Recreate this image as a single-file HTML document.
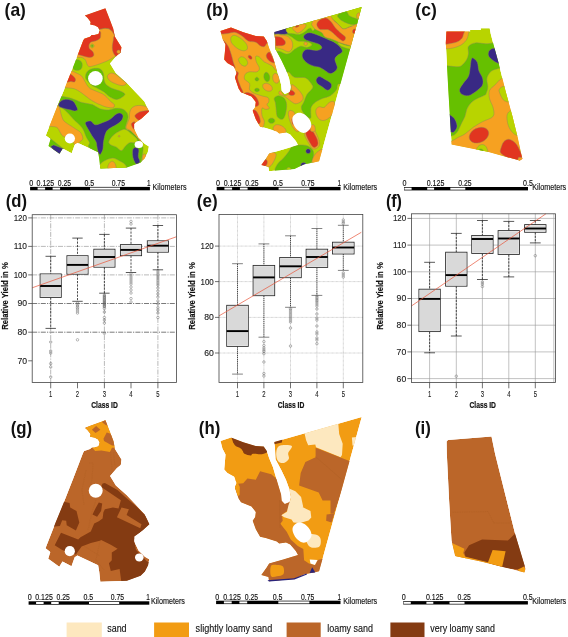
<!DOCTYPE html>
<html><head><meta charset="utf-8"><title>Figure</title>
<style>
html,body{margin:0;padding:0;background:#fff;}
body{width:568px;height:637px;overflow:hidden;font-family:"Liberation Sans",sans-serif;}
svg{display:block;will-change:transform}
text{font-family:"Liberation Sans",sans-serif;}
</style></head><body>
<svg width="568" height="637" viewBox="0 0 568 637">
<rect width="568" height="637" fill="#fff"/>
<clipPath id="ca"><path d="M84.8,15.6 L105.4,8.2 L110.1,20.3 L113.3,28.8 L114.9,36.7 L121.4,47.3 L120.7,52.5 L116.9,55.5 L110.0,63.5 L115.8,73.0 L126.4,82.5 L134.9,91.4 L144.4,101.5 L149.1,111.5 L141.5,118.5 L134.1,123.7 L134.1,129.0 L138.3,137.5 L144.6,143.8 L148.9,146.4 L147.8,152.3 L144.6,158.6 L140.4,162.8 L126.7,167.6 L100.3,168.6 L99.2,158.6 L98.1,152.3 L77.5,142.7 L74.9,144.3 L71.7,153.3 L62.7,148.6 L59.5,153.8 L48.5,145.9 L50.6,139.0 L45.8,135.4 L55.8,110.0 L64.0,90.0 L74.2,64.2 L83.2,40.4 L84.3,38.8 L90.1,36.7 L91.7,35.1 L94.3,35.1 L98.5,34.0 L99.6,30.4 L98.0,27.2 L94.8,25.6 L90.1,24.5 L90.6,21.9 L87.4,17.7 Z"/></clipPath>
<g clip-path="url(#ca)">
<path d="M84.8,15.6 L105.4,8.2 L110.1,20.3 L113.3,28.8 L114.9,36.7 L121.4,47.3 L120.7,52.5 L116.9,55.5 L110.0,63.5 L115.8,73.0 L126.4,82.5 L134.9,91.4 L144.4,101.5 L149.1,111.5 L141.5,118.5 L134.1,123.7 L134.1,129.0 L138.3,137.5 L144.6,143.8 L148.9,146.4 L147.8,152.3 L144.6,158.6 L140.4,162.8 L126.7,167.6 L100.3,168.6 L99.2,158.6 L98.1,152.3 L77.5,142.7 L74.9,144.3 L71.7,153.3 L62.7,148.6 L59.5,153.8 L48.5,145.9 L50.6,139.0 L45.8,135.4 L55.8,110.0 L64.0,90.0 L74.2,64.2 L83.2,40.4 L84.3,38.8 L90.1,36.7 L91.7,35.1 L94.3,35.1 L98.5,34.0 L99.6,30.4 L98.0,27.2 L94.8,25.6 L90.1,24.5 L90.6,21.9 L87.4,17.7 Z" fill="#b8d400"/>
<path d="M99.6,29.3 C102.1,29.0 103.3,28.3 104.9,28.2 C106.5,28.1 107.9,28.3 109.1,28.8 C110.3,29.3 111.1,30.2 112.3,31.4 C113.5,32.6 114.2,33.4 116.0,36.0 C117.8,38.6 122.0,44.0 123.0,47.0 C124.0,50.0 123.0,52.5 122.0,54.0 C121.0,55.5 118.1,55.6 116.9,56.0 C115.7,56.4 115.8,56.1 114.8,56.6 C113.8,57.1 112.0,58.4 110.6,59.2 C109.2,60.0 107.9,60.6 106.3,61.3 C104.7,62.0 102.7,62.8 100.7,63.5 C98.7,64.2 96.3,65.1 94.4,65.6 C92.5,66.1 90.3,66.9 89.1,66.6 C87.9,66.3 87.6,65.1 87.0,64.0 C86.4,62.9 86.3,61.1 85.5,60.0 C84.7,58.9 83.6,58.0 82.0,57.5 C80.4,57.0 78.0,58.2 76.0,57.0 C74.0,55.8 70.0,52.8 70.0,50.0 C70.0,47.2 72.7,43.3 76.0,40.0 C79.3,36.7 86.1,31.8 90.0,30.0 C93.9,28.2 97.1,29.6 99.6,29.3 Z" fill="#f6a121" stroke="#8f8a5a" stroke-width="0.45"/>
<path d="M80.0,5.0 L125.0,5.0 L125.0,36.0 L114.5,35.5 L112.3,31.4 L109.1,28.8 L104.9,28.2 L99.6,29.3 L97.0,31.0 L80.0,31.0 Z" fill="#e13520" stroke="#8f8a5a" stroke-width="0.45"/>
<path d="M99.6,31.0 C101.4,31.9 100.6,34.3 100.6,35.6 C100.6,36.9 100.5,37.9 99.6,38.8 C98.7,39.7 96.8,40.4 95.4,40.9 C94.0,41.4 92.2,41.3 91.1,42.0 C90.0,42.7 89.3,44.0 89.0,45.1 C88.7,46.2 88.9,47.7 89.5,48.8 C90.1,49.9 92.0,50.4 92.7,51.5 C93.4,52.6 94.1,54.2 93.8,55.2 C93.5,56.2 92.4,57.0 91.1,57.3 C89.8,57.6 87.5,57.1 85.8,56.8 C84.0,56.4 82.2,55.6 80.6,55.2 C79.0,54.8 78.1,54.7 76.0,54.5 C73.9,54.3 69.3,57.1 68.0,54.0 C66.7,50.9 64.3,40.0 68.0,36.0 C71.7,32.0 84.7,30.8 90.0,30.0 C95.3,29.2 97.8,30.1 99.6,31.0 Z" fill="#e13520" stroke="#8f8a5a" stroke-width="0.45"/>
<path d="M114.2,36.2 C113.4,37.0 113.6,38.1 113.3,40.0 C113.0,41.9 112.3,45.2 112.3,47.3 C112.3,49.4 112.6,50.9 113.3,52.5 C114.0,54.1 115.0,56.0 116.5,56.8 C118.0,57.5 120.4,58.6 122.0,57.0 C123.6,55.4 126.7,50.7 126.0,47.0 C125.3,43.3 120.0,36.8 118.0,35.0 C116.0,33.2 115.0,35.4 114.2,36.2 Z" fill="#e13520" stroke="#8f8a5a" stroke-width="0.45"/>
<path d="M120.4,51.8 C120.4,52.2 120.2,52.8 119.9,53.1 C119.6,53.4 119.0,53.6 118.6,53.6 C118.2,53.6 117.6,53.4 117.3,53.1 C117.0,52.8 116.8,52.2 116.8,51.8 C116.8,51.4 117.0,50.8 117.3,50.5 C117.6,50.2 118.2,50.0 118.6,50.0 C119.0,50.0 119.6,50.2 119.9,50.5 C120.2,50.8 120.4,51.4 120.4,51.8 Z" fill="#f6a121" stroke="#8f8a5a" stroke-width="0.45"/>
<path d="M94.1,45.9 C94.1,46.3 93.9,46.9 93.5,47.2 C93.2,47.6 92.6,47.8 92.2,47.8 C91.8,47.8 91.2,47.6 90.9,47.2 C90.5,46.9 90.3,46.3 90.3,45.9 C90.3,45.5 90.5,44.9 90.9,44.6 C91.2,44.2 91.8,44.0 92.2,44.0 C92.6,44.0 93.2,44.2 93.5,44.6 C93.9,44.9 94.1,45.5 94.1,45.9 Z" fill="#b8d400" stroke="#8f8a5a" stroke-width="0.45"/>
<path d="M93.1,45.9 C93.1,46.1 93.0,46.4 92.8,46.5 C92.7,46.7 92.4,46.8 92.2,46.8 C92.0,46.8 91.7,46.7 91.6,46.5 C91.4,46.4 91.3,46.1 91.3,45.9 C91.3,45.7 91.4,45.4 91.6,45.3 C91.7,45.1 92.0,45.0 92.2,45.0 C92.4,45.0 92.7,45.1 92.8,45.3 C93.0,45.4 93.1,45.7 93.1,45.9 Z" fill="#66c000" stroke="#8f8a5a" stroke-width="0.45"/>
<path d="M72.7,65.0 C72.9,63.8 73.1,61.9 74.0,61.0 C74.9,60.1 76.8,59.6 78.0,59.8 C79.2,60.0 80.8,61.0 81.5,62.0 C82.2,63.0 82.4,64.8 82.2,66.0 C82.0,67.2 81.5,68.8 80.5,69.5 C79.5,70.2 77.2,70.5 76.0,70.3 C74.8,70.1 73.5,69.4 73.0,68.5 C72.5,67.6 72.5,66.2 72.7,65.0 Z" fill="#66c000" stroke="#8f8a5a" stroke-width="0.45"/>
<path d="M66.0,70.5 C68.2,67.8 69.4,70.4 71.1,70.8 C72.8,71.2 74.6,72.1 76.4,73.0 C78.2,73.9 80.3,74.7 81.7,76.1 C83.1,77.5 83.7,79.5 84.9,81.4 C86.1,83.3 87.3,86.1 89.1,87.7 C90.8,89.3 93.1,89.8 95.4,90.9 C97.7,92.0 100.9,93.0 102.8,94.1 C104.7,95.2 105.7,96.3 107.0,97.5 C108.3,98.7 109.4,100.3 110.6,101.5 C111.8,102.7 113.8,103.6 114.3,104.6 C114.8,105.6 114.3,106.8 113.7,107.3 C113.1,107.8 112.0,107.9 110.6,107.8 C109.2,107.7 107.1,107.3 105.3,106.8 C103.5,106.3 101.3,105.1 100.0,104.6 C98.7,104.1 99.2,104.5 97.5,103.6 C95.8,102.7 92.7,101.2 90.1,99.4 C87.5,97.6 84.3,94.8 81.7,93.0 C79.1,91.2 77.1,89.7 74.3,88.8 C71.5,87.9 67.5,88.0 64.8,87.7 C62.1,87.4 57.8,89.9 58.0,87.0 C58.2,84.1 63.8,73.2 66.0,70.5 Z" fill="#f6a121" stroke="#8f8a5a" stroke-width="0.45"/>
<path d="M69.0,73.5 C70.2,73.9 71.4,74.6 72.5,75.5 C73.6,76.4 75.1,77.9 75.4,79.0 C75.7,80.1 75.3,81.5 74.5,81.9 C73.7,82.3 72.1,81.5 70.5,81.5 C68.9,81.5 65.9,83.4 65.0,82.0 C64.1,80.6 64.3,74.4 65.0,73.0 C65.7,71.6 67.8,73.1 69.0,73.5 Z" fill="#e13520" stroke="#8f8a5a" stroke-width="0.45"/>
<path d="M85.5,77.0 C85.5,75.6 85.9,73.4 87.0,72.0 C88.1,70.6 90.2,69.2 92.3,68.7 C94.4,68.2 97.8,68.0 99.6,68.7 C101.4,69.4 102.3,70.7 103.2,73.0 C104.1,75.3 103.6,80.0 104.8,82.5 C106.0,85.0 107.9,86.2 110.6,87.7 C113.3,89.2 118.7,90.3 121.1,91.4 C123.5,92.5 124.5,93.2 124.8,94.1 C125.1,95.0 124.0,95.8 122.7,96.7 C121.4,97.6 118.9,99.3 116.9,99.4 C114.9,99.5 112.7,98.5 110.6,97.3 C108.5,96.1 105.8,93.2 104.2,92.0 C102.6,90.8 102.1,90.7 100.7,89.9 C99.3,89.2 97.4,88.2 96.0,87.5 C94.6,86.8 93.8,86.8 92.3,85.6 C90.8,84.4 88.1,81.8 87.0,80.4 C85.9,79.0 85.5,78.4 85.5,77.0 Z" fill="#66c000" stroke="#8f8a5a" stroke-width="0.45"/>
<path d="M107.4,76.1 C107.6,74.9 109.2,73.5 110.6,73.2 C112.0,72.9 113.9,73.4 115.8,74.5 C117.7,75.6 120.4,78.3 122.2,79.8 C124.0,81.3 126.4,82.5 126.4,83.5 C126.4,84.5 124.1,85.6 122.2,85.6 C120.3,85.6 116.9,84.4 114.8,83.5 C112.7,82.6 110.7,81.6 109.5,80.4 C108.3,79.2 107.2,77.3 107.4,76.1 Z" fill="#f6a121" stroke="#8f8a5a" stroke-width="0.45"/>
<path d="M54.0,96.0 C55.1,94.5 57.8,95.8 60.6,96.2 C63.5,96.6 67.6,97.2 71.1,98.3 C74.6,99.3 78.2,101.5 81.7,102.5 C85.2,103.5 89.2,103.5 92.3,104.6 C95.3,105.6 97.3,107.9 100.0,108.8 C102.7,109.7 105.9,110.1 108.5,110.0 C111.1,109.9 113.5,108.5 115.8,108.3 C118.1,108.1 120.4,108.3 122.2,108.9 C124.0,109.5 125.4,110.8 126.4,112.0 C127.4,113.2 127.8,114.7 128.0,116.0 C128.2,117.3 127.9,118.2 127.5,120.0 C127.1,121.8 125.6,125.3 125.5,127.0 C125.4,128.7 126.1,129.3 127.0,130.0 C127.9,130.7 129.2,129.8 130.9,131.1 C132.6,132.3 135.8,135.8 137.3,137.5 C138.8,139.2 139.1,139.4 140.0,141.0 C140.9,142.6 142.6,144.8 143.0,147.0 C143.4,149.2 142.8,151.8 142.5,154.0 C142.2,156.2 141.8,158.2 141.5,160.0 C141.2,161.8 142.9,162.9 140.4,164.5 C137.9,166.1 133.4,168.6 126.7,169.5 C120.0,170.4 105.2,171.8 100.3,170.0 C95.3,168.2 97.7,161.5 97.0,158.6 C96.3,155.7 97.4,154.2 96.0,152.3 C94.6,150.4 89.7,148.6 88.6,147.0 C87.5,145.4 89.9,144.3 89.6,142.7 C89.2,141.1 87.7,139.9 86.5,137.5 C85.3,135.1 84.4,131.0 82.3,128.0 C80.2,125.0 76.3,122.1 73.8,119.5 C71.3,116.9 69.5,114.5 67.5,112.6 C65.5,110.7 64.2,109.3 62.0,108.0 C59.8,106.7 55.3,107.0 54.0,105.0 C52.7,103.0 52.9,97.5 54.0,96.0 Z" fill="#66c000" stroke="#8f8a5a" stroke-width="0.45"/>
<path d="M108.7,141.7 C109.1,140.1 111.0,137.2 113.0,135.4 C115.0,133.6 118.3,131.6 120.4,130.6 C122.5,129.6 123.7,128.9 125.6,129.5 C127.5,130.1 130.1,132.6 132.0,134.3 C133.9,136.0 136.8,138.2 137.3,139.6 C137.8,141.0 136.3,142.2 135.1,142.7 C133.9,143.2 131.5,142.2 129.9,142.7 C128.3,143.2 127.0,144.6 125.6,145.9 C124.2,147.2 123.0,150.5 121.4,150.7 C119.8,150.9 117.9,148.0 116.1,147.0 C114.3,146.0 112.0,145.8 110.8,144.9 C109.6,144.0 108.3,143.3 108.7,141.7 Z" fill="#b8d400" stroke="#8f8a5a" stroke-width="0.45"/>
<path d="M119.9,136.2 C119.9,136.4 119.8,136.6 119.7,136.8 C119.5,136.9 119.3,137.0 119.1,137.0 C118.9,137.0 118.7,136.9 118.5,136.8 C118.4,136.6 118.3,136.4 118.3,136.2 C118.3,136.0 118.4,135.8 118.5,135.6 C118.7,135.5 118.9,135.4 119.1,135.4 C119.3,135.4 119.5,135.5 119.7,135.6 C119.8,135.8 119.9,136.0 119.9,136.2 Z" fill="#f6a121" stroke="#8f8a5a" stroke-width="0.45"/>
<path d="M100.0,164.5 C101.3,162.5 103.4,161.3 105.6,160.2 C107.8,159.1 110.7,158.0 113.0,158.1 C115.3,158.2 117.4,159.7 119.3,160.7 C121.2,161.7 123.3,162.7 124.6,163.9 C125.9,165.1 126.6,166.7 127.0,168.0 C127.4,169.3 131.8,171.3 127.0,172.0 C122.2,172.7 102.5,173.2 98.0,172.0 C93.5,170.8 98.7,166.5 100.0,164.5 Z" fill="#b8d400" stroke="#8f8a5a" stroke-width="0.45"/>
<path d="M108.2,169.0 C107.0,168.2 108.2,165.3 108.8,164.0 C109.4,162.7 111.0,161.3 112.0,161.2 C113.0,161.1 114.4,162.2 115.0,163.5 C115.6,164.8 116.9,168.1 115.8,169.0 C114.7,169.9 109.4,169.8 108.2,169.0 Z" fill="#f6a121" stroke="#8f8a5a" stroke-width="0.45"/>
<path d="M85.4,122.7 C85.9,121.5 89.1,120.8 90.7,121.1 C92.3,121.4 93.0,124.5 95.0,124.8 C97.0,125.1 99.9,123.6 102.4,122.7 C104.9,121.8 107.5,120.9 109.8,119.5 C112.1,118.1 114.3,115.2 116.1,114.2 C117.9,113.2 119.2,112.9 120.4,113.2 C121.6,113.5 122.8,114.6 123.0,115.8 C123.2,117.0 122.6,119.1 121.4,120.6 C120.2,122.1 118.2,123.4 116.1,124.8 C114.0,126.2 110.5,127.6 108.7,129.0 C107.0,130.4 106.5,131.1 105.6,133.2 C104.7,135.3 104.0,139.0 103.5,141.7 C103.0,144.3 103.4,147.0 102.9,149.1 C102.4,151.2 101.1,153.9 100.3,154.4 C99.5,154.9 98.8,153.5 98.2,152.3 C97.7,151.1 97.4,148.8 97.0,147.0 C96.6,145.2 96.9,143.6 96.0,141.7 C95.1,139.8 93.2,137.7 91.8,135.4 C90.4,133.1 88.6,130.1 87.5,128.0 C86.4,125.9 84.9,123.9 85.4,122.7 Z" fill="#392984" stroke="#8f8a5a" stroke-width="0.45"/>
<path d="M58.5,104.5 C58.7,103.5 59.8,101.9 61.0,101.0 C62.2,100.1 64.1,99.4 65.8,99.3 C67.5,99.2 69.6,99.7 71.0,100.2 C72.4,100.7 73.2,101.0 74.3,102.5 C75.4,104.0 77.1,107.6 77.5,108.9 C77.9,110.2 77.0,110.2 76.5,110.5 C76.0,110.8 75.4,111.1 74.3,111.0 C73.2,110.9 71.4,110.1 70.0,109.8 C68.6,109.5 67.5,109.4 65.8,108.9 C64.1,108.4 61.2,107.7 60.0,107.0 C58.8,106.3 58.3,105.5 58.5,104.5 Z" fill="#392984" stroke="#8f8a5a" stroke-width="0.45"/>
<path d="M133.0,149.1 C133.5,147.9 134.7,147.4 135.7,147.5 C136.7,147.6 138.4,148.1 138.8,149.6 C139.2,151.1 138.1,154.5 138.3,156.5 C138.5,158.5 140.2,160.6 139.9,161.8 C139.6,163.0 137.2,164.3 136.2,163.9 C135.1,163.5 134.2,161.2 133.6,159.6 C133.0,158.0 132.6,156.2 132.5,154.4 C132.4,152.7 132.5,150.2 133.0,149.1 Z" fill="#392984" stroke="#8f8a5a" stroke-width="0.45"/>
<path d="M142.3,158.0 C142.3,157.1 142.6,155.7 143.0,155.0 C143.4,154.3 144.5,153.8 145.0,154.0 C145.5,154.2 146.1,155.4 146.0,156.5 C145.9,157.6 145.0,159.8 144.5,160.5 C144.0,161.2 143.2,161.1 142.8,160.7 C142.4,160.3 142.3,158.9 142.3,158.0 Z" fill="#f6a121" stroke="#8f8a5a" stroke-width="0.45"/>
<path d="M129.5,114.0 C129.8,112.4 130.1,110.3 131.0,109.0 C131.9,107.7 133.3,106.6 135.0,106.0 C136.7,105.4 139.1,105.3 141.0,105.5 C142.9,105.7 144.8,105.9 146.5,107.0 C148.2,108.1 150.4,110.7 151.0,112.0 C151.6,113.3 151.6,113.6 150.0,115.0 C148.4,116.4 143.8,118.9 141.5,120.5 C139.2,122.1 136.9,123.1 136.0,124.5 C135.1,125.9 135.3,126.8 136.0,129.0 C136.7,131.2 139.2,135.3 140.0,137.5 C140.8,139.7 141.4,142.0 141.0,142.0 C140.6,142.0 139.0,139.3 137.3,137.5 C135.6,135.7 132.8,132.7 130.9,131.1 C129.1,129.5 126.8,129.3 126.2,128.0 C125.6,126.7 127.0,124.6 127.5,123.0 C128.0,121.4 129.0,120.0 129.3,118.5 C129.6,117.0 129.2,115.6 129.5,114.0 Z" fill="#f6a121" stroke="#8f8a5a" stroke-width="0.45"/>
<path d="M135.1,115.3 C135.7,114.3 137.8,112.8 139.4,112.1 C141.1,111.3 143.1,111.1 145.0,110.8 C146.9,110.5 150.0,110.1 151.0,110.5 C152.0,110.9 152.6,111.4 151.0,113.0 C149.4,114.6 143.5,118.8 141.5,120.0 C139.5,121.2 139.9,120.6 139.0,120.3 C138.1,120.0 136.7,118.8 136.0,118.0 C135.3,117.2 134.5,116.3 135.1,115.3 Z" fill="#e13520" stroke="#8f8a5a" stroke-width="0.45"/>
<path d="M131.4,123.7 C131.8,122.8 134.2,121.0 134.8,122.0 C135.4,123.0 135.2,128.6 134.8,129.5 C134.4,130.4 133.1,128.4 132.5,127.4 C131.9,126.4 131.0,124.6 131.4,123.7 Z" fill="#e13520" stroke="#8f8a5a" stroke-width="0.45"/>
<path d="M58.5,106.0 C60.0,107.4 60.3,111.9 61.1,114.2 C61.9,116.5 62.1,118.4 63.2,120.0 C64.3,121.6 65.5,122.3 67.5,123.7 C69.5,125.1 72.7,127.0 74.9,128.5 C77.1,130.0 79.4,131.0 80.7,132.7 C82.0,134.4 82.9,137.0 82.8,138.5 C82.7,140.0 81.0,140.8 80.1,141.7 C79.2,142.6 78.4,143.4 77.5,144.0 C76.6,144.6 75.7,145.3 74.9,145.0 C74.2,144.7 73.8,143.1 73.0,142.0 C72.2,140.9 71.6,139.5 69.9,138.5 C68.2,137.5 64.3,137.0 62.7,135.9 C61.1,134.8 61.1,133.6 60.1,132.2 C59.1,130.8 58.6,128.4 56.9,127.4 C55.2,126.4 52.1,126.6 50.0,126.4 C47.9,126.2 43.7,129.4 44.0,126.0 C44.3,122.6 49.6,109.3 52.0,106.0 C54.4,102.7 57.0,104.6 58.5,106.0 Z" fill="#f6a121" stroke="#8f8a5a" stroke-width="0.45"/>
<path d="M50.4,138.6 L47.0,146.0 L59.5,155.0 L63.5,148.8 Z" fill="#66c000" stroke="#8f8a5a" stroke-width="0.45"/>
<path d="M50.6,146.6 L53.7,144.9 L63.5,148.8 L59.5,155.0 L55.0,152.0 Z" fill="#392984" stroke="#8f8a5a" stroke-width="0.45"/>
<ellipse cx="95.4" cy="78.4" rx="7.3" ry="7.3" fill="#fff"/>
<ellipse cx="69.9" cy="138.5" rx="5.1" ry="5.1" fill="#fff"/>
<ellipse cx="138.8" cy="144.5" rx="4.2" ry="3.5" fill="#fff"/>
</g>
<clipPath id="cb"><path d="M220.5,31.1 L231.0,27.4 L243.3,32.3 L255.7,36.0 L263.7,36.6 L266.8,41.0 L269.2,48.3 L272.9,57.0 L277.4,72.3 L281.1,84.6 L281.7,90.8 L284.8,93.9 L289.7,92.0 L290.7,87.1 L289.1,78.5 L286.0,69.9 L281.5,60.5 L275.5,49.3 L274.9,37.0 L274.3,32.0 L340.0,13.3 L361.7,7.1 L319.1,161.3 L312.7,162.7 L304.3,164.2 L294.4,169.1 L276.1,170.5 L269.1,171.2 L268.4,167.0 L261.3,164.9 L267.0,157.1 L269.1,153.6 L283.2,149.4 L293.0,146.5 L298.0,145.1 L295.8,140.9 L290.2,134.6 L286.0,132.5 L279.2,133.5 L276.8,131.6 L265.7,127.9 L260.1,126.7 L255.8,119.3 L252.7,110.7 L255.2,107.0 L255.8,102.0 L251.5,96.5 L246.6,94.6 L241.0,92.2 L238.6,88.5 L234.9,77.4 L236.6,73.0 L234.1,66.8 L227.3,63.1 L224.2,59.4 L224.9,52.0 L225.5,44.6 L222.4,38.5 Z"/></clipPath>
<g clip-path="url(#cb)">
<path d="M220.5,31.1 L231.0,27.4 L243.3,32.3 L255.7,36.0 L263.7,36.6 L266.8,41.0 L269.2,48.3 L272.9,57.0 L277.4,72.3 L281.1,84.6 L281.7,90.8 L284.8,93.9 L289.7,92.0 L290.7,87.1 L289.1,78.5 L286.0,69.9 L281.5,60.5 L275.5,49.3 L274.9,37.0 L274.3,32.0 L340.0,13.3 L361.7,7.1 L319.1,161.3 L312.7,162.7 L304.3,164.2 L294.4,169.1 L276.1,170.5 L269.1,171.2 L268.4,167.0 L261.3,164.9 L267.0,157.1 L269.1,153.6 L283.2,149.4 L293.0,146.5 L298.0,145.1 L295.8,140.9 L290.2,134.6 L286.0,132.5 L279.2,133.5 L276.8,131.6 L265.7,127.9 L260.1,126.7 L255.8,119.3 L252.7,110.7 L255.2,107.0 L255.8,102.0 L251.5,96.5 L246.6,94.6 L241.0,92.2 L238.6,88.5 L234.9,77.4 L236.6,73.0 L234.1,66.8 L227.3,63.1 L224.2,59.4 L224.9,52.0 L225.5,44.6 L222.4,38.5 Z" fill="#b8d400"/>
<path d="M270.0,35.0 C285.8,28.8 352.5,-3.7 365.0,3.0 C377.5,9.7 349.5,61.4 345.0,75.0 C340.5,88.6 339.2,82.2 337.8,84.6 C336.4,87.0 337.8,87.8 336.6,89.6 C335.4,91.4 332.7,94.3 330.4,95.7 C328.1,97.1 325.5,97.2 323.0,98.2 C320.5,99.2 317.6,100.5 315.6,101.9 C313.7,103.3 312.1,105.2 311.3,106.8 C310.5,108.4 310.8,109.9 310.7,111.8 C310.6,113.7 311.3,117.1 310.7,117.9 C310.1,118.7 308.3,117.7 307.0,116.7 C305.7,115.7 303.6,113.5 302.7,111.8 C301.8,110.1 301.2,108.4 301.4,106.8 C301.6,105.2 303.0,104.0 303.9,101.9 C304.8,99.9 305.6,96.8 307.0,94.5 C308.4,92.2 311.7,90.0 312.5,88.3 C313.3,86.6 313.0,86.3 311.9,84.6 C310.8,82.9 308.6,79.1 305.7,77.9 C302.8,76.7 297.4,78.2 294.6,77.3 C291.8,76.4 290.9,73.7 289.1,72.3 C287.3,70.9 287.2,74.4 284.0,69.0 C280.8,63.6 272.3,45.7 270.0,40.0 C267.7,34.3 254.2,41.2 270.0,35.0 Z" fill="#66c000" stroke="#8f8a5a" stroke-width="0.45"/>
<path d="M272.0,34.2 C274.1,31.7 281.6,33.9 284.8,34.3 C288.0,34.7 288.9,35.4 291.0,36.5 C293.1,37.6 295.1,39.9 297.1,40.7 C299.2,41.5 301.2,41.0 303.3,41.3 C305.4,41.6 308.0,41.9 309.4,42.5 C310.8,43.1 312.3,44.2 311.9,45.0 C311.5,45.8 308.9,47.2 307.0,47.4 C305.1,47.6 302.9,45.9 300.8,46.2 C298.7,46.5 296.4,48.2 294.6,49.3 C292.9,50.4 291.7,52.2 290.3,53.0 C288.9,53.8 287.7,54.2 286.0,54.0 C284.3,53.8 282.3,52.2 280.0,51.5 C277.7,50.8 273.3,52.4 272.0,49.5 C270.7,46.6 269.9,36.7 272.0,34.2 Z" fill="#b8d400" stroke="#8f8a5a" stroke-width="0.45"/>
<path d="M307.4,43.8 C307.4,44.2 307.2,44.7 306.9,45.0 C306.6,45.3 306.1,45.5 305.7,45.5 C305.3,45.5 304.8,45.3 304.5,45.0 C304.2,44.7 304.0,44.2 304.0,43.8 C304.0,43.4 304.2,42.9 304.5,42.6 C304.8,42.3 305.3,42.1 305.7,42.1 C306.1,42.1 306.6,42.3 306.9,42.6 C307.2,42.9 307.4,43.4 307.4,43.8 Z" fill="#f6a121" stroke="#8f8a5a" stroke-width="0.45"/>
<path d="M272.0,35.7 C273.7,33.7 279.6,34.9 282.3,35.1 C285.1,35.3 286.9,35.9 288.5,37.0 C290.1,38.1 291.6,40.0 292.2,41.9 C292.8,43.8 292.8,46.5 292.2,48.1 C291.6,49.8 290.1,51.6 288.5,51.8 C286.9,52.0 284.5,50.0 282.3,49.3 C280.1,48.6 277.2,47.8 275.5,47.4 C273.8,47.0 272.6,49.0 272.0,47.0 C271.4,45.0 270.3,37.7 272.0,35.7 Z" fill="#f6a121" stroke="#8f8a5a" stroke-width="0.45"/>
<path d="M272.0,37.5 C273.3,36.2 277.8,36.5 279.9,37.0 C282.0,37.5 284.0,39.5 284.8,40.7 C285.6,41.9 285.6,43.5 284.8,44.4 C284.0,45.2 282.0,45.7 279.9,45.8 C277.8,45.9 273.3,46.2 272.0,44.8 C270.7,43.4 270.7,38.8 272.0,37.5 Z" fill="#e13520" stroke="#8f8a5a" stroke-width="0.45"/>
<path d="M272.0,34.0 C271.1,33.0 269.0,29.7 272.0,28.0 C275.0,26.3 287.2,23.3 290.0,24.0 C292.8,24.7 289.4,30.3 288.5,32.0 C287.6,33.7 286.7,34.0 284.8,34.3 C282.9,34.6 279.5,33.9 277.4,33.9 C275.3,33.9 272.9,35.0 272.0,34.0 Z" fill="#392984" stroke="#8f8a5a" stroke-width="0.45"/>
<path d="M286.0,30.0 C286.1,31.6 287.1,32.6 288.5,33.3 C289.9,33.9 292.8,33.7 294.6,33.9 C296.5,34.1 298.0,34.8 299.6,34.5 C301.2,34.2 303.1,32.9 304.5,32.0 C305.9,31.1 307.2,29.6 308.2,29.0 C309.2,28.4 309.9,28.0 310.7,28.3 C311.5,28.6 312.1,31.4 313.0,31.0 C313.9,30.6 315.8,28.0 316.0,26.0 C316.2,24.0 316.7,20.8 314.0,19.0 C311.3,17.2 304.3,14.2 300.0,15.0 C295.7,15.8 290.3,21.5 288.0,24.0 C285.7,26.5 285.9,28.4 286.0,30.0 Z" fill="#b8d400" stroke="#8f8a5a" stroke-width="0.45"/>
<path d="M292.2,27.7 C292.9,26.7 296.9,25.2 299.0,24.6 C301.1,24.0 304.0,23.7 305.1,24.0 C306.2,24.3 306.2,25.4 305.7,26.5 C305.2,27.6 303.3,29.7 302.0,30.8 C300.7,31.9 298.9,33.0 297.7,33.0 C296.5,33.0 295.5,31.7 294.6,30.8 C293.7,29.9 291.5,28.7 292.2,27.7 Z" fill="#f6a121" stroke="#8f8a5a" stroke-width="0.45"/>
<path d="M299.1,25.5 C299.1,25.7 299.1,25.9 298.9,26.1 C298.7,26.4 298.4,26.6 298.1,26.8 C297.7,27.0 297.3,27.1 296.9,27.2 C296.5,27.3 296.1,27.3 295.9,27.3 C295.6,27.2 295.4,27.0 295.3,26.9 C295.3,26.7 295.3,26.5 295.5,26.3 C295.7,26.0 296.0,25.8 296.3,25.6 C296.7,25.4 297.1,25.3 297.5,25.2 C297.9,25.1 298.3,25.1 298.5,25.1 C298.8,25.2 299.0,25.4 299.1,25.5 Z" fill="#e13520" stroke="#8f8a5a" stroke-width="0.45"/>
<path d="M326.0,17.0 C324.9,19.1 331.5,19.0 333.6,20.3 C335.7,21.6 337.0,23.2 338.6,24.6 C340.2,26.1 341.4,28.7 343.5,29.0 C345.6,29.3 348.3,27.1 350.9,26.5 C353.5,25.9 356.5,29.2 359.0,25.5 C361.5,21.8 369.2,6.9 366.0,4.0 C362.8,1.1 346.7,5.8 340.0,8.0 C333.3,10.2 327.1,14.9 326.0,17.0 Z" fill="#b8d400" stroke="#8f8a5a" stroke-width="0.45"/>
<path d="M337.9,14.8 C339.0,13.6 344.1,11.3 346.0,11.5 C347.9,11.7 347.6,14.6 349.6,16.0 C351.7,17.4 357.0,18.4 358.3,19.7 C359.6,21.0 358.7,23.2 357.7,24.0 C356.7,24.8 354.3,24.9 352.1,24.6 C349.9,24.3 346.9,23.2 344.7,22.2 C342.5,21.2 340.3,19.7 339.2,18.5 C338.1,17.3 336.8,16.0 337.9,14.8 Z" fill="#66c000" stroke="#8f8a5a" stroke-width="0.45"/>
<path d="M360.6,16.0 C360.5,16.6 360.2,17.2 359.9,17.7 C359.6,18.1 359.1,18.4 358.7,18.5 C358.3,18.6 357.8,18.5 357.5,18.3 C357.2,18.1 356.9,17.6 356.7,17.1 C356.6,16.6 356.5,15.9 356.6,15.4 C356.7,14.8 357.0,14.2 357.3,13.7 C357.6,13.3 358.1,13.0 358.5,12.9 C358.9,12.8 359.4,12.9 359.7,13.1 C360.0,13.3 360.3,13.8 360.5,14.3 C360.6,14.8 360.7,15.5 360.6,16.0 Z" fill="#f6a121" stroke="#8f8a5a" stroke-width="0.45"/>
<path d="M338.0,42.5 C338.8,42.4 342.7,44.3 345.0,45.0 C347.3,45.7 350.9,45.8 352.0,46.5 C353.1,47.2 352.7,49.0 351.5,49.2 C350.3,49.4 346.9,48.4 345.0,47.8 C343.1,47.2 341.2,46.4 340.0,45.5 C338.8,44.6 337.2,42.6 338.0,42.5 Z" fill="#b8d400" stroke="#8f8a5a" stroke-width="0.45"/>
<path d="M311.9,23.4 C312.5,21.9 313.3,18.6 316.0,17.0 C318.7,15.4 325.1,13.4 328.0,14.0 C330.9,14.6 331.8,18.5 333.6,20.3 C335.4,22.1 337.0,23.2 338.6,24.6 C340.2,26.1 341.4,28.7 343.5,29.0 C345.6,29.3 348.3,27.1 350.9,26.5 C353.5,25.9 358.5,22.1 359.0,25.5 C359.5,28.9 355.6,43.6 354.0,47.0 C352.4,50.4 351.8,46.2 349.6,45.6 C347.4,45.0 343.9,44.1 341.0,43.1 C338.1,42.1 335.1,40.4 332.4,39.4 C329.7,38.4 326.8,38.1 325.0,37.0 C323.2,35.9 323.4,33.9 321.8,32.7 C320.2,31.5 317.2,30.7 315.6,29.6 C314.1,28.5 313.1,26.9 312.5,25.9 C311.9,24.9 311.3,24.9 311.9,23.4 Z" fill="#f6a121" stroke="#8f8a5a" stroke-width="0.45"/>
<path d="M316.8,24.6 C316.8,23.2 317.9,21.4 319.3,20.3 C320.8,19.2 323.6,17.8 325.5,17.9 C327.4,18.0 328.7,19.3 330.4,21.0 C332.1,22.7 333.7,25.9 335.5,28.0 C337.3,30.1 339.4,31.8 341.0,33.3 C342.6,34.8 344.7,35.9 345.3,37.0 C345.9,38.1 345.2,39.4 344.7,40.0 C344.2,40.6 343.5,41.2 342.3,40.7 C341.1,40.2 338.9,38.4 337.3,37.0 C335.7,35.6 334.1,33.7 332.5,32.5 C330.9,31.3 329.5,30.1 327.9,29.6 C326.3,29.1 324.4,29.7 323.0,29.6 C321.6,29.5 320.3,29.8 319.3,29.0 C318.3,28.2 316.8,26.1 316.8,24.6 Z" fill="#e13520" stroke="#8f8a5a" stroke-width="0.45"/>
<path d="M355.9,31.6 C355.8,32.1 355.6,32.6 355.3,32.9 C355.0,33.2 354.6,33.4 354.2,33.4 C353.9,33.5 353.5,33.4 353.2,33.2 C353.0,33.0 352.7,32.6 352.6,32.1 C352.5,31.7 352.5,31.2 352.7,30.8 C352.8,30.3 353.0,29.8 353.3,29.5 C353.6,29.2 354.0,29.0 354.4,29.0 C354.7,28.9 355.1,29.0 355.4,29.2 C355.6,29.4 355.9,29.8 356.0,30.3 C356.1,30.7 356.1,31.2 355.9,31.6 Z" fill="#e13520" stroke="#8f8a5a" stroke-width="0.45"/>
<path d="M303.9,35.7 C304.6,34.6 306.8,32.7 309.4,32.7 C312.0,32.7 316.2,34.6 319.3,35.7 C322.4,36.8 325.5,38.4 327.9,39.4 C330.3,40.4 331.6,40.7 333.6,41.9 C335.6,43.1 338.4,45.1 339.8,46.8 C341.2,48.4 342.7,50.3 342.3,51.8 C341.9,53.2 338.5,54.3 337.3,55.5 C336.1,56.7 335.0,57.6 334.9,59.2 C334.8,60.8 336.3,63.8 336.7,65.3 C337.1,66.8 337.4,67.0 337.2,68.0 C337.0,69.0 336.4,70.2 335.3,71.1 C334.2,72.0 332.2,73.8 330.4,73.6 C328.5,73.4 326.0,71.0 324.2,69.9 C322.4,68.8 321.1,67.9 319.3,67.2 C317.5,66.5 315.2,66.6 313.1,65.9 C311.1,65.2 308.7,64.2 307.0,62.9 C305.3,61.6 303.4,59.5 302.7,57.9 C302.0,56.2 302.0,54.4 302.7,53.0 C303.4,51.6 304.6,49.7 307.0,49.3 C309.4,48.9 314.3,50.7 316.8,50.5 C319.3,50.3 321.4,49.1 321.8,48.1 C322.2,47.1 321.0,45.4 319.3,44.4 C317.6,43.4 314.3,42.7 311.9,41.9 C309.5,41.1 306.4,40.4 305.1,39.4 C303.8,38.4 303.2,36.8 303.9,35.7 Z" fill="#392984" stroke="#8f8a5a" stroke-width="0.45"/>
<path d="M316.2,79.7 C316.5,78.6 317.8,76.6 319.3,76.6 C320.9,76.6 323.6,78.6 325.5,79.7 C327.4,80.8 330.1,82.1 331.0,83.4 C331.9,84.7 331.6,86.6 331.0,87.7 C330.4,88.8 328.8,90.4 327.3,90.2 C325.8,90.0 323.5,87.6 321.8,86.5 C320.1,85.4 318.3,84.5 317.4,83.4 C316.5,82.3 315.9,80.8 316.2,79.7 Z" fill="#392984" stroke="#8f8a5a" stroke-width="0.45"/>
<path d="M316.2,109.3 C316.7,108.1 318.0,107.1 319.3,106.8 C320.6,106.5 322.6,108.1 324.2,107.4 C325.8,106.7 327.5,103.4 329.2,102.5 C330.9,101.6 333.1,100.8 334.1,101.9 C335.1,103.0 335.6,106.8 335.0,109.3 C334.4,111.8 332.2,114.8 330.4,116.7 C328.6,118.6 326.0,120.0 324.2,120.4 C322.4,120.8 320.6,120.2 319.3,119.2 C318.0,118.2 316.7,115.9 316.2,114.2 C315.7,112.5 315.7,110.5 316.2,109.3 Z" fill="#f6a121" stroke="#8f8a5a" stroke-width="0.45"/>
<path d="M218.0,28.0 C227.0,23.0 260.5,24.7 270.0,30.0 C279.5,35.3 273.9,53.2 275.0,60.0 C276.1,66.8 277.1,69.6 276.5,70.5 C275.9,71.4 273.7,67.0 271.7,65.6 C269.7,64.2 266.4,63.3 264.3,61.9 C262.2,60.5 260.8,57.9 259.4,57.0 C258.0,56.1 256.2,55.6 255.7,56.4 C255.2,57.2 255.7,60.0 256.3,61.9 C256.9,63.8 259.3,66.4 259.4,68.1 C259.5,69.8 258.5,71.2 256.9,71.8 C255.2,72.4 251.4,71.4 249.5,71.8 C247.6,72.2 246.0,73.0 245.2,74.2 C244.4,75.4 243.9,77.6 244.6,79.2 C245.3,80.8 248.8,81.8 249.6,83.6 C250.4,85.3 248.8,88.1 249.6,89.7 C250.4,91.3 252.5,92.4 254.6,93.4 C256.7,94.4 259.8,95.2 262.0,95.9 C264.2,96.6 267.0,96.7 268.1,97.7 C269.2,98.7 269.0,100.9 268.8,102.0 C268.6,103.1 266.8,103.5 266.9,104.5 C267.0,105.5 269.6,107.4 269.4,108.2 C269.2,109.0 266.9,109.4 265.7,109.4 C264.5,109.4 262.6,107.2 262.0,108.2 C261.4,109.2 261.6,113.3 262.0,115.6 C262.4,117.9 264.4,119.6 264.4,121.8 C264.4,124.0 263.4,127.3 262.0,128.5 C260.6,129.7 258.3,132.1 256.0,129.0 C253.7,125.9 248.3,114.5 248.0,110.0 C247.7,105.5 256.5,105.0 254.0,102.0 C251.5,99.0 237.3,97.3 233.0,92.0 C228.7,86.7 230.8,75.3 228.0,70.0 C225.2,64.7 217.7,67.0 216.0,60.0 C214.3,53.0 209.0,33.0 218.0,28.0 Z" fill="#f6a121" stroke="#8f8a5a" stroke-width="0.45"/>
<path d="M218.0,28.0 C219.9,26.4 227.7,23.7 232.0,24.0 C236.3,24.3 240.0,28.3 244.0,30.0 C248.0,31.7 252.5,33.3 256.0,34.0 C259.5,34.7 262.7,32.7 265.0,34.0 C267.3,35.3 269.7,40.4 270.0,42.0 C270.3,43.6 267.8,42.6 266.8,43.4 C265.9,44.1 265.3,46.1 264.3,46.5 C263.3,46.9 262.0,46.6 260.6,45.9 C259.2,45.2 257.8,43.0 255.7,42.2 C253.6,41.4 250.6,42.0 248.3,41.0 C246.0,40.0 244.4,37.5 242.1,36.0 C239.8,34.5 237.2,32.7 234.7,32.3 C232.2,31.9 229.7,33.4 227.3,33.6 C224.9,33.8 222.1,34.5 220.5,33.6 C218.9,32.7 216.1,29.6 218.0,28.0 Z" fill="#e13520" stroke="#8f8a5a" stroke-width="0.45"/>
<path d="M221.0,39.0 C221.5,38.5 222.9,39.6 224.2,41.0 C225.5,42.4 227.4,44.6 228.6,47.1 C229.8,49.6 230.8,53.0 231.6,55.7 C232.4,58.4 232.9,61.0 233.5,63.1 C234.1,65.2 235.8,67.9 235.0,68.5 C234.2,69.1 231.3,67.9 229.0,66.5 C226.7,65.1 222.3,63.8 221.0,60.0 C219.7,56.2 221.0,47.5 221.0,44.0 C221.0,40.5 220.5,39.5 221.0,39.0 Z" fill="#e13520" stroke="#8f8a5a" stroke-width="0.45"/>
<path d="M266.8,53.9 C267.4,53.1 268.8,51.6 269.8,52.3 C270.8,53.0 272.1,56.4 272.9,58.2 C273.7,60.0 275.1,62.6 274.5,63.0 C273.9,63.4 270.5,61.7 269.2,60.7 C267.9,59.7 266.9,58.1 266.5,57.0 C266.1,55.9 266.2,54.7 266.8,53.9 Z" fill="#e13520" stroke="#8f8a5a" stroke-width="0.45"/>
<path d="M251.7,58.9 C251.5,59.1 251.1,59.3 250.8,59.2 C250.4,59.2 250.0,59.1 249.6,58.8 C249.2,58.6 248.8,58.2 248.6,57.8 C248.3,57.4 248.2,57.0 248.2,56.6 C248.1,56.3 248.3,55.9 248.5,55.7 C248.7,55.5 249.1,55.3 249.4,55.4 C249.8,55.4 250.2,55.5 250.6,55.8 C251.0,56.0 251.4,56.4 251.6,56.8 C251.9,57.2 252.0,57.6 252.0,58.0 C252.1,58.3 251.9,58.7 251.7,58.9 Z" fill="#e13520" stroke="#8f8a5a" stroke-width="0.45"/>
<path d="M232.0,71.0 C233.0,69.8 237.3,71.3 238.2,72.5 C239.1,73.7 237.2,75.8 237.6,78.0 C237.9,80.2 239.4,83.5 240.3,86.0 C241.2,88.5 243.2,91.4 243.2,92.8 C243.1,94.2 241.4,94.6 240.0,94.5 C238.6,94.4 236.3,94.4 235.0,92.0 C233.7,89.6 232.5,83.5 232.0,80.0 C231.5,76.5 231.0,72.2 232.0,71.0 Z" fill="#e13520" stroke="#8f8a5a" stroke-width="0.45"/>
<path d="M244.0,94.5 C243.4,93.4 245.2,92.7 246.5,92.6 C247.8,92.5 249.9,93.1 251.5,93.8 C253.1,94.5 254.8,95.6 256.0,97.0 C257.2,98.4 258.2,100.6 258.6,102.0 C259.0,103.4 259.0,104.8 258.2,105.5 C257.4,106.2 255.4,107.1 254.0,106.0 C252.6,104.9 251.7,100.9 250.0,99.0 C248.3,97.1 244.6,95.6 244.0,94.5 Z" fill="#e13520" stroke="#8f8a5a" stroke-width="0.45"/>
<path d="M250.0,109.0 C250.9,108.6 254.0,109.3 255.5,110.5 C257.0,111.7 258.2,114.2 259.0,116.0 C259.8,117.8 260.4,120.2 260.3,121.5 C260.2,122.8 259.6,124.1 258.5,124.0 C257.4,123.9 255.4,122.8 254.0,121.0 C252.6,119.2 250.7,115.0 250.0,113.0 C249.3,111.0 249.1,109.4 250.0,109.0 Z" fill="#e13520" stroke="#8f8a5a" stroke-width="0.45"/>
<path d="M231.0,37.3 C231.5,36.1 233.0,35.2 234.7,35.4 C236.3,35.6 238.9,37.1 240.9,38.5 C242.9,39.9 245.3,42.2 246.4,44.0 C247.5,45.8 247.8,47.9 247.3,49.0 C246.8,50.1 245.0,50.9 243.3,50.8 C241.6,50.7 239.1,49.6 237.2,48.3 C235.2,47.0 232.6,44.6 231.6,42.8 C230.6,41.0 230.5,38.5 231.0,37.3 Z" fill="#b8d400" stroke="#8f8a5a" stroke-width="0.45"/>
<path d="M238.4,59.4 C238.5,58.1 240.3,56.8 241.5,56.7 C242.7,56.6 244.8,57.7 245.8,58.8 C246.8,59.9 247.8,61.9 247.7,63.1 C247.6,64.3 246.3,66.0 245.2,66.2 C244.1,66.4 242.0,65.5 240.9,64.4 C239.8,63.3 238.3,60.7 238.4,59.4 Z" fill="#b8d400" stroke="#8f8a5a" stroke-width="0.45"/>
<path d="M269.7,76.5 C269.8,77.4 269.8,78.5 269.6,79.3 C269.4,80.1 268.9,80.9 268.5,81.2 C268.0,81.6 267.3,81.7 266.7,81.6 C266.1,81.4 265.4,80.8 265.0,80.1 C264.5,79.5 264.1,78.4 263.9,77.5 C263.8,76.6 263.8,75.5 264.0,74.7 C264.2,73.9 264.7,73.1 265.1,72.8 C265.6,72.4 266.3,72.3 266.9,72.4 C267.5,72.6 268.2,73.2 268.6,73.9 C269.1,74.5 269.5,75.6 269.7,76.5 Z" fill="#66c000" stroke="#8f8a5a" stroke-width="0.45"/>
<path d="M258.8,79.2 C258.8,79.6 258.6,80.2 258.2,80.5 C257.9,80.9 257.3,81.1 256.9,81.1 C256.5,81.1 255.9,80.9 255.6,80.5 C255.2,80.2 255.0,79.6 255.0,79.2 C255.0,78.8 255.2,78.2 255.6,77.9 C255.9,77.5 256.5,77.3 256.9,77.3 C257.3,77.3 257.9,77.5 258.2,77.9 C258.6,78.2 258.8,78.8 258.8,79.2 Z" fill="#66c000" stroke="#8f8a5a" stroke-width="0.45"/>
<path d="M259.4,90.0 C259.4,90.4 259.2,90.8 258.9,91.1 C258.7,91.3 258.2,91.6 257.7,91.7 C257.3,91.8 256.7,91.8 256.3,91.7 C255.8,91.6 255.3,91.3 255.1,91.1 C254.8,90.8 254.6,90.4 254.6,90.0 C254.6,89.6 254.8,89.2 255.1,88.9 C255.3,88.7 255.8,88.4 256.3,88.3 C256.7,88.2 257.3,88.2 257.7,88.3 C258.2,88.4 258.7,88.7 258.9,88.9 C259.2,89.2 259.4,89.6 259.4,90.0 Z" fill="#66c000" stroke="#8f8a5a" stroke-width="0.45"/>
<path d="M279.2,77.6 C279.4,78.6 279.4,79.8 279.2,80.6 C279.0,81.5 278.5,82.3 278.0,82.7 C277.4,83.2 276.7,83.3 276.0,83.2 C275.3,83.0 274.5,82.4 274.0,81.7 C273.5,81.0 273.0,79.9 272.8,79.0 C272.6,78.0 272.6,76.8 272.8,76.0 C273.0,75.1 273.5,74.3 274.0,73.9 C274.6,73.4 275.3,73.3 276.0,73.4 C276.7,73.6 277.5,74.2 278.0,74.9 C278.5,75.6 279.0,76.7 279.2,77.6 Z" fill="#f6a121" stroke="#8f8a5a" stroke-width="0.45"/>
<path d="M272.0,89.9 C271.7,90.5 270.9,91.0 270.1,91.2 C269.3,91.4 268.2,91.3 267.2,91.0 C266.3,90.7 265.2,90.0 264.4,89.4 C263.7,88.7 263.1,87.8 262.8,87.0 C262.6,86.2 262.7,85.3 263.0,84.7 C263.3,84.1 264.1,83.6 264.9,83.4 C265.7,83.2 266.8,83.3 267.8,83.6 C268.7,83.9 269.8,84.6 270.6,85.2 C271.3,85.9 271.9,86.8 272.2,87.6 C272.4,88.4 272.3,89.3 272.0,89.9 Z" fill="#f6a121" stroke="#8f8a5a" stroke-width="0.45"/>
<path d="M274.3,98.2 C274.8,97.0 277.0,95.7 278.6,95.7 C280.2,95.7 282.9,96.8 284.2,98.2 C285.5,99.7 286.4,101.7 286.6,104.4 C286.8,107.1 286.1,111.7 285.4,114.2 C284.7,116.7 283.6,118.8 282.3,119.2 C281.0,119.6 278.4,118.4 277.4,116.7 C276.4,115.0 276.5,111.6 276.2,109.3 C275.9,107.0 275.8,104.9 275.5,103.1 C275.2,101.2 273.8,99.4 274.3,98.2 Z" fill="#66c000" stroke="#8f8a5a" stroke-width="0.45"/>
<path d="M274.7,120.7 C274.7,121.2 274.5,121.8 274.1,122.2 C273.7,122.6 273.1,123.0 272.5,123.2 C271.9,123.3 271.1,123.3 270.5,123.2 C269.9,123.0 269.3,122.6 268.9,122.2 C268.5,121.8 268.3,121.2 268.3,120.7 C268.3,120.2 268.5,119.6 268.9,119.2 C269.3,118.8 269.9,118.4 270.5,118.2 C271.1,118.1 271.9,118.1 272.5,118.2 C273.1,118.4 273.7,118.8 274.1,119.2 C274.5,119.6 274.7,120.2 274.7,120.7 Z" fill="#66c000" stroke="#8f8a5a" stroke-width="0.45"/>
<path d="M273.1,128.0 C273.3,126.8 274.7,125.2 276.0,124.8 C277.3,124.4 279.4,124.8 281.0,125.5 C282.6,126.2 284.6,127.8 285.4,129.0 C286.1,130.2 286.5,132.0 285.5,133.0 C284.5,134.0 280.9,135.2 279.2,135.0 C277.4,134.8 276.0,133.2 275.0,132.0 C274.0,130.8 272.9,129.2 273.1,128.0 Z" fill="#f6a121" stroke="#8f8a5a" stroke-width="0.45"/>
<path d="M280.5,90.8 C281.5,91.1 283.1,95.6 284.8,95.7 C286.6,95.8 289.9,93.3 291.0,91.5 C292.1,89.7 290.6,85.1 291.6,84.6 C292.6,84.1 295.2,86.4 297.1,88.3 C299.0,90.2 301.9,93.6 302.7,95.7 C303.5,97.8 303.1,99.4 302.0,100.7 C300.9,102.0 297.8,103.8 295.9,103.8 C293.9,103.8 292.1,101.9 290.3,100.7 C288.5,99.5 286.7,97.6 284.8,96.5 C282.9,95.4 279.7,95.0 279.0,94.0 C278.3,93.0 279.5,90.5 280.5,90.8 Z" fill="#f6a121" stroke="#8f8a5a" stroke-width="0.45"/>
<path d="M288.5,93.5 C288.6,92.7 290.0,90.4 291.0,90.2 C292.0,90.0 294.1,91.7 294.6,92.5 C295.1,93.3 294.7,94.6 294.0,95.1 C293.3,95.6 291.4,95.6 290.5,95.3 C289.6,95.0 288.4,94.3 288.5,93.5 Z" fill="#e13520" stroke="#8f8a5a" stroke-width="0.45"/>
<path d="M288.5,112.0 C288.8,110.8 290.0,110.3 291.0,110.5 C292.0,110.7 293.9,111.4 294.6,113.0 C295.3,114.6 294.6,117.7 295.0,120.0 C295.4,122.3 296.3,125.2 297.0,127.0 C297.7,128.8 299.2,130.3 299.0,131.0 C298.8,131.7 297.1,132.0 295.8,131.0 C294.6,130.0 292.6,127.2 291.5,125.0 C290.4,122.8 289.5,120.2 289.0,118.0 C288.5,115.8 288.2,113.2 288.5,112.0 Z" fill="#f6a121" stroke="#8f8a5a" stroke-width="0.45"/>
<path d="M291.8,119.0 C291.9,118.2 292.6,118.2 293.0,119.0 C293.4,119.8 294.1,123.2 294.0,124.0 C293.9,124.8 293.0,124.8 292.6,124.0 C292.2,123.2 291.7,119.8 291.8,119.0 Z" fill="#e13520" stroke="#8f8a5a" stroke-width="0.45"/>
<path d="M304.3,133.2 C304.3,130.9 306.6,128.9 308.0,128.0 C309.4,127.0 311.0,125.7 312.8,127.5 C314.6,129.3 317.5,135.8 318.6,138.8 C319.7,141.9 320.1,144.1 319.2,145.8 C318.3,147.5 315.4,149.6 313.5,149.0 C311.6,148.4 309.5,144.6 308.0,142.0 C306.5,139.4 304.3,135.5 304.3,133.2 Z" fill="#f6a121" stroke="#8f8a5a" stroke-width="0.45"/>
<path d="M305.7,133.2 C305.6,131.2 307.5,130.4 308.5,129.8 C309.5,129.2 310.2,128.3 311.6,129.8 C313.0,131.3 316.0,136.2 317.0,138.8 C318.0,141.4 318.3,143.7 317.7,145.1 C317.1,146.5 314.9,147.9 313.5,147.3 C312.1,146.7 310.5,143.9 309.2,141.6 C307.9,139.2 305.8,135.2 305.7,133.2 Z" fill="#e13520" stroke="#8f8a5a" stroke-width="0.45"/>
<path d="M310.7,131.0 C310.0,130.1 310.4,126.2 311.0,125.3 C311.6,124.4 313.7,124.5 314.4,125.5 C315.1,126.5 315.6,130.1 315.0,131.0 C314.4,131.9 311.4,131.9 310.7,131.0 Z" fill="#f6a121" stroke="#8f8a5a" stroke-width="0.45"/>
<path d="M276.1,171.5 C273.3,170.4 276.3,166.4 277.5,164.2 C278.7,162.0 281.3,160.6 283.2,158.5 C285.1,156.4 287.4,153.4 288.8,151.5 C290.2,149.6 290.0,148.4 291.6,147.3 C293.2,146.2 296.1,145.3 298.7,145.1 C301.3,144.8 304.8,145.0 307.1,145.8 C309.4,146.6 311.6,148.4 312.7,150.1 C313.8,151.8 313.7,153.6 313.5,155.7 C313.3,157.8 312.8,160.9 311.3,162.5 C309.8,164.1 307.1,164.2 304.3,165.5 C301.5,166.8 299.1,169.5 294.4,170.5 C289.7,171.5 278.9,172.6 276.1,171.5 Z" fill="#66c000" stroke="#8f8a5a" stroke-width="0.45"/>
<path d="M290.9,169.3 C290.9,169.7 290.7,170.2 290.5,170.5 C290.3,170.8 289.8,171.1 289.4,171.2 C289.1,171.3 288.5,171.3 288.2,171.2 C287.8,171.1 287.3,170.8 287.1,170.5 C286.9,170.2 286.7,169.7 286.7,169.3 C286.7,168.9 286.9,168.4 287.1,168.1 C287.3,167.8 287.8,167.5 288.2,167.4 C288.5,167.3 289.1,167.3 289.4,167.4 C289.8,167.5 290.3,167.8 290.5,168.1 C290.7,168.4 290.9,168.9 290.9,169.3 Z" fill="#b8d400" stroke="#8f8a5a" stroke-width="0.45"/>
<path d="M310.6,151.2 C310.6,151.8 310.3,152.5 309.9,152.9 C309.5,153.3 308.8,153.6 308.2,153.6 C307.6,153.6 306.9,153.3 306.5,152.9 C306.1,152.5 305.8,151.8 305.8,151.2 C305.8,150.6 306.1,149.9 306.5,149.5 C306.9,149.1 307.6,148.8 308.2,148.8 C308.8,148.8 309.5,149.1 309.9,149.5 C310.3,149.9 310.6,150.6 310.6,151.2 Z" fill="#392984" stroke="#8f8a5a" stroke-width="0.45"/>
<path d="M306.5,165.3 C306.5,166.0 306.1,166.9 305.7,167.4 C305.2,167.8 304.3,168.2 303.6,168.2 C302.9,168.2 302.0,167.8 301.5,167.4 C301.1,166.9 300.7,166.0 300.7,165.3 C300.7,164.6 301.1,163.7 301.5,163.2 C302.0,162.8 302.9,162.4 303.6,162.4 C304.3,162.4 305.2,162.8 305.7,163.2 C306.1,163.7 306.5,164.6 306.5,165.3 Z" fill="#392984" stroke="#8f8a5a" stroke-width="0.45"/>
<path d="M266.0,158.0 C266.5,155.9 267.8,154.1 269.1,153.2 C270.4,152.3 272.8,152.2 274.0,152.5 C275.2,152.8 276.1,153.6 276.1,155.0 C276.1,156.4 275.0,159.1 274.0,161.0 C273.0,162.9 271.3,165.7 270.0,166.5 C268.7,167.3 266.7,167.4 266.0,166.0 C265.3,164.6 265.5,160.1 266.0,158.0 Z" fill="#f6a121" stroke="#8f8a5a" stroke-width="0.45"/>
<path d="M259.0,165.0 C259.0,163.9 261.7,160.7 263.0,159.9 C264.3,159.2 266.4,159.7 267.0,160.5 C267.6,161.3 267.2,164.0 266.5,165.0 C265.8,166.0 264.2,166.5 263.0,166.5 C261.8,166.5 259.0,166.1 259.0,165.0 Z" fill="#e13520" stroke="#8f8a5a" stroke-width="0.45"/>
<path d="M312.0,162.0 C311.7,160.7 313.0,157.8 314.0,156.0 C315.0,154.2 316.5,152.5 318.0,151.5 C319.5,150.5 322.3,148.1 323.0,150.0 C323.7,151.9 323.2,160.7 322.0,163.0 C320.8,165.3 317.7,164.2 316.0,164.0 C314.3,163.8 312.3,163.3 312.0,162.0 Z" fill="#f6a121" stroke="#8f8a5a" stroke-width="0.45"/>
</g>
<path d="M292.3,119.8 C292.3,118.3 292.6,116.8 293.7,115.6 C294.8,114.4 296.9,112.9 298.7,112.7 C300.5,112.5 302.6,113.1 304.3,114.2 C306.1,115.3 308.0,117.3 309.2,119.1 C310.4,120.8 311.2,123.1 311.3,124.7 C311.4,126.3 310.8,127.6 309.9,128.9 C309.0,130.2 307.1,131.9 305.7,132.5 C304.3,133.1 303.0,133.1 301.5,132.5 C300.0,131.9 297.8,130.2 296.5,128.9 C295.2,127.6 294.4,126.2 293.7,124.7 C293.0,123.2 292.3,121.3 292.3,119.8 Z" fill="#fff"/>
<clipPath id="cc"><path d="M446.4,31.4 L470.1,31.4 L470.1,30.0 L480.7,30.0 L480.7,28.2 L489.7,28.2 L490.7,33.7 L493.1,42.9 L498.4,62.3 L505.4,90.4 L512.5,116.4 L517.7,137.5 L522.3,158.7 L519.8,160.6 L487.8,151.8 L451.6,144.6 L448.3,90.0 L445.8,42.9 Z"/></clipPath>
<g clip-path="url(#cc)">
<path d="M446.4,31.4 L470.1,31.4 L470.1,30.0 L480.7,30.0 L480.7,28.2 L489.7,28.2 L490.7,33.7 L493.1,42.9 L498.4,62.3 L505.4,90.4 L512.5,116.4 L517.7,137.5 L522.3,158.7 L519.8,160.6 L487.8,151.8 L451.6,144.6 L448.3,90.0 L445.8,42.9 Z" fill="#b8d400"/>
<path d="M440.0,65.5 C441.2,53.6 444.6,65.6 447.3,65.8 C450.0,66.0 453.8,66.7 456.1,66.7 C458.5,66.7 459.6,67.0 461.4,65.8 C463.2,64.6 465.5,61.6 466.7,59.6 C467.9,57.6 468.2,55.7 468.5,53.5 C468.8,51.3 467.3,48.2 468.5,46.4 C469.7,44.6 472.6,43.3 475.5,42.9 C478.4,42.5 483.2,43.8 486.1,43.8 C489.0,43.8 490.8,43.2 493.1,42.9 C495.4,42.6 498.4,38.1 500.0,42.0 C501.6,45.9 503.3,61.6 503.0,66.0 C502.7,70.4 500.3,67.6 498.4,68.4 C496.4,69.2 493.2,69.5 491.3,71.1 C489.4,72.7 487.5,75.5 486.9,78.1 C486.3,80.7 487.9,84.3 487.8,86.9 C487.7,89.5 486.7,92.1 486.1,93.5 C485.5,94.9 486.4,94.1 484.3,95.3 C482.2,96.5 476.5,98.5 473.7,100.6 C470.9,102.6 469.1,105.0 467.6,107.6 C466.1,110.2 465.9,113.8 464.9,116.4 C463.9,119.1 462.7,120.8 461.4,123.5 C460.1,126.2 458.6,130.2 457.0,132.3 C455.4,134.4 454.5,135.0 451.7,135.8 C448.9,136.6 441.9,148.7 440.0,137.0 C438.1,125.3 438.8,77.4 440.0,65.5 Z" fill="#66c000" stroke="#8f8a5a" stroke-width="0.45"/>
<path d="M501.0,79.0 C499.1,79.8 496.8,83.2 494.9,85.1 C493.0,87.0 490.5,88.1 489.6,90.4 C488.7,92.7 489.0,95.9 489.6,98.8 C490.2,101.7 492.5,104.7 493.1,107.6 C493.7,110.5 494.9,114.1 493.1,116.4 C491.3,118.8 485.7,119.9 482.5,121.7 C479.3,123.5 476.6,125.0 473.7,127.0 C470.8,129.1 467.5,132.2 464.9,134.0 C462.3,135.8 460.1,136.3 457.9,137.5 C455.7,138.7 454.0,140.2 451.7,141.0 C449.4,141.8 445.3,140.5 444.0,142.0 C442.7,143.5 436.8,147.3 444.0,150.0 C451.2,152.7 473.5,155.0 487.0,158.0 C500.5,161.0 517.8,169.3 525.0,168.0 C532.2,166.7 531.7,161.3 530.0,150.0 C528.3,138.7 519.0,111.7 515.0,100.0 C511.0,88.3 508.3,83.5 506.0,80.0 C503.7,76.5 502.9,78.2 501.0,79.0 Z" fill="#f6a121" stroke="#8f8a5a" stroke-width="0.45"/>
<path d="M499.3,89.0 C498.4,90.3 499.6,93.0 500.5,95.0 C501.4,97.0 502.6,99.8 504.5,100.8 C506.4,101.8 511.8,103.3 512.0,101.0 C512.2,98.7 508.1,89.0 506.0,87.0 C503.9,85.0 500.2,87.7 499.3,89.0 Z" fill="#b8d400" stroke="#8f8a5a" stroke-width="0.45"/>
<path d="M507.6,113.5 C506.5,115.2 506.9,119.2 507.4,122.0 C507.9,124.8 509.0,127.8 510.5,130.0 C512.0,132.2 514.4,134.5 516.3,135.2 C518.2,135.9 522.4,137.9 522.0,134.0 C521.6,130.1 516.4,115.4 514.0,112.0 C511.6,108.6 508.7,111.8 507.6,113.5 Z" fill="#b8d400" stroke="#8f8a5a" stroke-width="0.45"/>
<path d="M436.0,24.0 C441.4,19.8 462.8,22.3 468.2,24.0 C473.6,25.7 468.8,31.2 468.4,34.0 C468.0,36.8 467.3,38.6 466.0,40.5 C464.7,42.4 462.7,44.0 460.5,45.3 C458.3,46.5 455.4,47.4 453.0,48.0 C450.6,48.6 448.8,48.6 446.0,48.8 C443.2,49.0 437.7,53.1 436.0,49.0 C434.3,44.9 430.6,28.2 436.0,24.0 Z" fill="#f6a121" stroke="#8f8a5a" stroke-width="0.45"/>
<path d="M436.0,26.0 C440.5,22.8 458.6,24.5 463.1,26.0 C467.6,27.5 463.6,32.8 463.2,35.0 C462.8,37.2 462.2,38.1 461.0,39.3 C459.8,40.5 458.4,41.5 456.0,42.3 C453.6,43.1 449.7,43.8 446.4,44.2 C443.1,44.7 437.7,48.0 436.0,45.0 C434.3,42.0 431.5,29.2 436.0,26.0 Z" fill="#e13520" stroke="#8f8a5a" stroke-width="0.45"/>
<path d="M472.9,57.9 C473.9,58.2 476.3,60.1 477.3,62.3 C478.3,64.5 478.1,68.5 479.0,71.1 C479.9,73.7 481.9,75.8 482.5,78.1 C483.1,80.4 483.4,83.0 482.5,85.1 C481.6,87.1 479.6,88.6 477.3,90.4 C475.0,92.2 471.1,95.1 468.5,95.7 C465.9,96.3 462.9,94.9 461.4,93.9 C459.9,92.9 459.3,91.2 459.6,89.5 C459.9,87.8 461.7,85.6 463.2,83.4 C464.7,81.2 467.3,79.0 468.5,76.3 C469.7,73.6 469.8,70.1 470.2,67.5 C470.6,64.9 470.7,62.1 471.1,60.5 C471.6,58.9 471.9,57.6 472.9,57.9 Z" fill="#392984" stroke="#8f8a5a" stroke-width="0.45"/>
<path d="M491.3,49.0 C492.3,48.5 493.6,48.1 494.9,48.6 C496.2,49.1 498.0,49.4 499.0,52.0 C500.0,54.6 501.1,62.1 501.0,64.0 C500.9,65.9 499.7,64.1 498.4,63.5 C497.1,62.9 494.7,61.7 493.1,60.5 C491.5,59.3 489.4,57.6 488.7,56.1 C488.0,54.6 488.3,52.9 488.7,51.7 C489.1,50.5 490.3,49.5 491.3,49.0 Z" fill="#392984" stroke="#8f8a5a" stroke-width="0.45"/>
<path d="M447.0,114.5 C447.8,111.8 449.4,114.6 450.8,115.5 C452.2,116.4 454.2,118.0 455.2,119.9 C456.2,121.8 457.3,124.9 457.0,127.0 C456.7,129.1 454.5,131.5 453.5,132.3 C452.5,133.1 452.1,132.1 450.8,132.0 C449.6,131.9 446.6,134.9 446.0,132.0 C445.4,129.1 446.2,117.2 447.0,114.5 Z" fill="#392984" stroke="#8f8a5a" stroke-width="0.45"/>
<path d="M488.2,130.9 C488.8,132.0 488.9,133.5 488.5,134.8 C488.2,136.1 487.4,137.6 486.3,138.8 C485.2,139.9 483.6,141.1 482.1,141.8 C480.5,142.5 478.6,143.0 477.0,143.1 C475.5,143.2 473.8,142.8 472.5,142.2 C471.3,141.6 470.3,140.6 469.8,139.5 C469.2,138.4 469.1,136.9 469.5,135.6 C469.8,134.3 470.6,132.8 471.7,131.6 C472.8,130.5 474.4,129.3 475.9,128.6 C477.5,127.9 479.4,127.4 481.0,127.3 C482.5,127.2 484.2,127.6 485.5,128.2 C486.7,128.8 487.7,129.8 488.2,130.9 Z" fill="#e13520" stroke="#8f8a5a" stroke-width="0.45"/>
<path d="M501.0,148.1 C501.5,146.3 502.4,143.4 503.7,141.9 C505.0,140.4 507.0,139.2 508.9,139.3 C510.8,139.5 513.3,141.0 515.1,142.8 C516.9,144.6 518.2,147.0 519.5,149.9 C520.8,152.8 524.2,158.5 523.0,160.0 C521.8,161.5 515.4,159.6 512.5,159.0 C509.6,158.4 507.4,157.6 505.4,156.5 C503.4,155.4 501.2,153.9 500.5,152.5 C499.8,151.1 500.5,149.9 501.0,148.1 Z" fill="#e13520" stroke="#8f8a5a" stroke-width="0.45"/>
<path d="M476.4,151.0 C475.7,149.9 477.1,147.6 478.0,146.5 C478.9,145.4 480.7,144.6 482.0,144.6 C483.3,144.6 485.0,145.1 486.0,146.5 C487.0,147.9 488.5,151.9 487.8,153.0 C487.1,154.1 483.9,153.3 482.0,153.0 C480.1,152.7 477.1,152.1 476.4,151.0 Z" fill="#b8d400" stroke="#8f8a5a" stroke-width="0.45"/>
<path d="M477.5,151.0 C477.9,150.5 479.1,149.2 480.0,149.0 C480.9,148.8 482.5,149.3 483.0,150.0 C483.5,150.7 483.9,152.7 483.0,153.0 C482.1,153.3 478.4,152.3 477.5,152.0 C476.6,151.7 477.1,151.5 477.5,151.0 Z" fill="#66c000" stroke="#8f8a5a" stroke-width="0.45"/>
<path d="M518.6,157.2 L523.5,157.5 L523.0,163.0 L517.5,160.6 Z" fill="#f6a121" stroke="#8f8a5a" stroke-width="0.45"/>
</g>
<clipPath id="cg"><path d="M84.7,427.8 L105.4,420.3 L110.2,432.5 L113.4,441.0 L115.0,449.0 L121.5,459.6 L120.8,464.9 L117.0,467.9 L110.1,475.9 L115.9,485.5 L126.6,495.1 L135.1,504.0 L144.7,514.2 L149.4,524.2 L141.7,531.3 L134.3,536.5 L134.3,541.8 L138.5,550.4 L144.9,556.7 L149.2,559.3 L148.1,565.3 L144.9,571.6 L140.6,575.8 L126.9,580.7 L100.3,581.7 L99.2,571.6 L98.1,565.3 L77.4,555.6 L74.7,557.2 L71.5,566.3 L62.5,561.6 L59.3,566.8 L48.2,558.8 L50.3,551.9 L45.5,548.3 L55.5,522.7 L63.8,502.6 L74.0,476.6 L83.1,452.7 L84.2,451.1 L90.0,449.0 L91.7,447.4 L94.3,447.4 L98.5,446.3 L99.6,442.6 L98.0,439.4 L94.8,437.8 L90.0,436.7 L90.5,434.1 L87.3,429.9 Z"/></clipPath>
<g clip-path="url(#cg)">
<path d="M84.7,427.8 L105.4,420.3 L110.2,432.5 L113.4,441.0 L115.0,449.0 L121.5,459.6 L120.8,464.9 L117.0,467.9 L110.1,475.9 L115.9,485.5 L126.6,495.1 L135.1,504.0 L144.7,514.2 L149.4,524.2 L141.7,531.3 L134.3,536.5 L134.3,541.8 L138.5,550.4 L144.9,556.7 L149.2,559.3 L148.1,565.3 L144.9,571.6 L140.6,575.8 L126.9,580.7 L100.3,581.7 L99.2,571.6 L98.1,565.3 L77.4,555.6 L74.7,557.2 L71.5,566.3 L62.5,561.6 L59.3,566.8 L48.2,558.8 L50.3,551.9 L45.5,548.3 L55.5,522.7 L63.8,502.6 L74.0,476.6 L83.1,452.7 L84.2,451.1 L90.0,449.0 L91.7,447.4 L94.3,447.4 L98.5,446.3 L99.6,442.6 L98.0,439.4 L94.8,437.8 L90.0,436.7 L90.5,434.1 L87.3,429.9 Z" fill="#bb6629"/>
<path d="M80.0,428.2 L85.0,428.2 L105.6,415.0 L118.0,433.0 L116.0,447.7 L112.0,447.7 L109.9,452.0 L101.4,450.4 L95.1,450.9 L92.4,447.7 L88.0,440.0 L80.0,436.0 Z" fill="#f29c13" stroke="none" stroke-width="0"/>
<path d="M91.9,429.8 L96.1,426.1 L100.4,429.8 L95.6,433.0 Z" fill="#bb6629" stroke="none" stroke-width="0"/>
<path d="M101.9,421.9 L105.6,419.0 L109.0,425.9 L105.6,425.0 Z" fill="#bb6629" stroke="none" stroke-width="0"/>
<path d="M106.7,432.4 L109.9,433.5 L118.0,440.0 L116.0,445.8 L112.0,445.6 L104.0,440.9 L103.5,438.8 Z" fill="#bb6629" stroke="none" stroke-width="0"/>
<path d="M62.0,501.0 L65.0,501.9 L69.6,503.0 L70.2,507.6 L76.5,511.0 L79.3,522.5 L75.9,530.5 L66.7,525.3 L66.2,520.7 L62.2,520.2 L59.9,525.9 L54.7,526.5 L50.0,528.0 Z" fill="#843b12" stroke="none" stroke-width="0"/>
<path d="M61.0,532.8 L78.2,539.6 L80.5,537.3 L90.8,531.6 L94.2,523.6 L98.8,521.3 L102.6,518.5 L103.4,512.2 L104.9,509.3 L112.9,507.6 L118.5,508.5 L120.9,500.2 L117.5,497.9 L107.2,491.0 L102.0,487.6 L101.6,485.5 L102.6,483.6 L104.9,483.0 L117.5,489.9 L125.5,497.3 L135.8,506.0 L145.0,515.0 L153.0,527.0 L142.0,531.0 L136.5,536.0 L134.1,540.0 L136.0,549.7 L139.0,553.0 L143.5,557.5 L146.7,561.3 L151.0,563.0 L145.0,575.0 L133.0,581.0 L121.5,583.0 L119.6,569.0 L110.8,571.0 L108.9,563.2 L111.8,560.3 L111.8,552.6 L117.6,548.7 L110.8,544.8 L101.2,540.0 L99.9,540.8 L90.8,543.1 L81.6,546.5 L75.9,554.5 L70.0,553.0 L62.2,549.9 L54.7,545.3 Z" fill="#843b12" stroke="none" stroke-width="0"/>
<path d="M121.5,507.6 L128.9,509.3 L126.6,515.0 L141.5,524.2 L140.3,528.2 L116.9,517.3 Z" fill="#bb6629" stroke="none" stroke-width="0"/>
<path d="M98.8,502.4 L102.2,503.6 L101.1,511.0 L97.1,516.7 L92.5,514.5 L95.3,508.7 Z" fill="#843b12" stroke="none" stroke-width="0"/>
<ellipse cx="95.7" cy="490.8" rx="7.0" ry="7.0" fill="#fff"/>
<ellipse cx="69.8" cy="551.2" rx="5.1" ry="5.1" fill="#fff"/>
<ellipse cx="139.3" cy="557.4" rx="4.3" ry="4.0" fill="#fff"/>
</g>
<g clip-path="url(#cg)" fill="none" stroke="#a85c22" stroke-width="0.35" stroke-dasharray="1.5,0.8" opacity="0.8"><path d="M110.5,452 L112,470"/><path d="M113.5,452 L115,466"/><path d="M89,463 L93,463 L92,480 L88,492"/><path d="M86,470 L82,490 L84,505"/><path d="M96,500 L92,512 L88,530"/><path d="M100,541 L96,560 L104,570"/><path d="M84,546 L100,556"/></g>
<clipPath id="ch"><path d="M220.5,441.1 L231.0,437.4 L243.3,442.3 L255.7,446.0 L263.7,446.6 L266.8,451.0 L269.2,458.3 L272.9,467.0 L277.4,482.3 L281.1,494.6 L281.7,500.8 L284.8,503.9 L289.7,502.0 L290.7,497.1 L289.1,488.5 L286.0,479.9 L281.5,470.5 L275.5,459.3 L274.9,447.0 L274.3,442.0 L340.0,423.3 L361.7,417.1 L319.1,571.3 L312.7,572.7 L304.3,574.2 L294.4,579.1 L276.1,580.5 L269.1,581.2 L268.4,577.0 L261.3,574.9 L267.0,567.1 L269.1,563.6 L283.2,559.4 L293.0,556.5 L298.0,555.1 L295.8,550.9 L290.2,544.6 L286.0,542.5 L279.2,543.5 L276.8,541.6 L265.7,537.9 L260.1,536.7 L255.8,529.3 L252.7,520.7 L255.2,517.0 L255.8,512.0 L251.5,506.5 L246.6,504.6 L241.0,502.2 L238.6,498.5 L234.9,487.4 L236.6,483.0 L234.1,476.8 L227.3,473.1 L224.2,469.4 L224.9,462.0 L225.5,454.6 L222.4,448.5 Z"/></clipPath>
<g clip-path="url(#ch)">
<path d="M220.5,441.1 L231.0,437.4 L243.3,442.3 L255.7,446.0 L263.7,446.6 L266.8,451.0 L269.2,458.3 L272.9,467.0 L277.4,482.3 L281.1,494.6 L281.7,500.8 L284.8,503.9 L289.7,502.0 L290.7,497.1 L289.1,488.5 L286.0,479.9 L281.5,470.5 L275.5,459.3 L274.9,447.0 L274.3,442.0 L340.0,423.3 L361.7,417.1 L319.1,571.3 L312.7,572.7 L304.3,574.2 L294.4,579.1 L276.1,580.5 L269.1,581.2 L268.4,577.0 L261.3,574.9 L267.0,567.1 L269.1,563.6 L283.2,559.4 L293.0,556.5 L298.0,555.1 L295.8,550.9 L290.2,544.6 L286.0,542.5 L279.2,543.5 L276.8,541.6 L265.7,537.9 L260.1,536.7 L255.8,529.3 L252.7,520.7 L255.2,517.0 L255.8,512.0 L251.5,506.5 L246.6,504.6 L241.0,502.2 L238.6,498.5 L234.9,487.4 L236.6,483.0 L234.1,476.8 L227.3,473.1 L224.2,469.4 L224.9,462.0 L225.5,454.6 L222.4,448.5 Z" fill="#f29c13"/>
<path d="M260.1,471.3 L271.3,474.2 L279.0,481.0 L282.0,494.1 L283.0,500.0 L290.6,500.5 L289.0,505.8 L287.0,511.0 L282.0,514.5 L282.7,520.8 L280.4,523.8 L286.7,531.7 L290.7,539.6 L297.8,546.0 L303.3,549.1 L304.1,560.2 L308.9,563.4 L314.9,565.0 L317.6,559.9 L325.0,558.2 L320.0,575.0 L300.0,585.0 L255.0,585.0 L255.0,545.0 L245.0,515.0 L232.0,495.0 L236.1,484.0 L243.2,483.3 L247.4,478.4 L255.8,479.8 Z" fill="#bb6629" stroke="none" stroke-width="0"/>
<path d="M232.0,478.0 L236.5,480.0 L239.8,487.0 L239.6,495.0 L238.0,496.0 L233.0,490.0 Z" fill="#f29c13" stroke="none" stroke-width="0"/>
<path d="M232.6,436.0 C235.1,436.1 243.0,440.3 247.6,441.5 C252.2,442.7 257.2,442.3 260.3,443.0 C263.4,443.7 265.1,444.2 266.5,445.5 C267.9,446.8 269.3,449.6 268.5,451.0 C267.7,452.4 264.4,453.8 261.8,454.2 C259.2,454.6 254.8,453.5 252.9,453.7 C251.1,453.9 252.1,455.5 250.7,455.5 C249.3,455.5 245.7,454.4 244.4,453.7 C243.1,452.9 243.4,451.9 242.8,451.0 C242.2,450.1 241.8,449.2 240.7,448.4 C239.6,447.6 237.2,447.1 236.0,446.3 C234.8,445.5 234.4,444.5 233.8,443.6 C233.2,442.7 232.9,442.3 232.7,441.0 C232.5,439.7 230.1,435.9 232.6,436.0 Z" fill="#843b12" stroke="none" stroke-width="0"/>
<path d="M273.0,439.0 L282.5,437.5 L281.9,442.6 L273.0,444.5 Z" fill="#843b12" stroke="none" stroke-width="0"/>
<path d="M277.0,448.8 C277.8,447.1 278.7,445.8 281.2,445.3 C283.7,444.8 290.6,444.7 291.8,446.0 C293.0,447.3 288.7,450.9 288.2,453.0 C287.7,455.1 289.6,457.1 288.9,458.7 C288.2,460.3 285.8,462.4 284.0,462.9 C282.2,463.4 279.7,462.7 278.4,461.5 C277.1,460.3 276.5,457.9 276.3,455.8 C276.1,453.7 276.2,450.6 277.0,448.8 Z" fill="#fde8bf" stroke="none" stroke-width="0"/>
<path d="M303.3,428.0 L337.8,418.0 L339.2,433.9 L342.7,443.8 L342.0,455.1 L340.5,457.2 L316.0,447.3 L315.3,444.5 L308.2,445.2 L306.1,440.3 Z" fill="#fde8bf" stroke="none" stroke-width="0"/>
<path d="M351.9,437.5 L357.0,437.0 L355.4,445.9 L352.5,445.5 Z" fill="#fde8bf" stroke="none" stroke-width="0"/>
<path d="M315.6,447.8 L352.0,462.0 L334.0,513.5 L330.5,513.7 L330.5,500.4 L322.6,500.4 L318.7,492.5 L299.1,485.5 L300.7,472.9 L305.4,462.0 L315.6,457.3 Z" fill="#bb6629" stroke="none" stroke-width="0"/>
<path d="M289.1,488.5 L295.4,491.3 L301.1,496.9 L303.2,506.8 L302.5,507.1 L310.5,511.1 L311.3,517.4 L308.5,520.5 L300.0,523.0 L293.5,522.5 L291.5,519.5 L284.2,517.3 L281.3,515.2 L287.0,511.7 L288.4,505.4 L291.0,498.0 Z" fill="#fde8bf" stroke="none" stroke-width="0"/>
<path d="M311.3,534.1 C313.4,533.9 316.8,534.7 318.4,535.7 C320.0,536.8 320.7,538.6 320.8,540.4 C320.9,542.2 320.8,545.5 319.2,546.7 C317.6,547.9 313.3,548.0 311.3,547.5 C309.3,547.0 308.2,545.4 307.3,543.6 C306.4,541.9 305.3,538.6 306.0,537.0 C306.7,535.4 309.2,534.3 311.3,534.1 Z" fill="#fde8bf" stroke="none" stroke-width="0"/>
<path d="M326.6,514.5 L334.5,513.5 L331.5,522.6 L326.1,520.8 Z" fill="#bb6629" stroke="none" stroke-width="0"/>
<path d="M271.0,566.0 C272.0,564.2 275.0,564.9 277.0,565.0 C279.0,565.1 281.9,565.0 283.0,566.5 C284.1,568.0 284.5,572.4 283.5,574.0 C282.5,575.6 279.1,576.0 277.0,576.3 C274.9,576.6 272.0,577.7 271.0,576.0 C270.0,574.3 270.0,567.8 271.0,566.0 Z" fill="#f29c13" stroke="none" stroke-width="0"/>
</g>
<path d="M292.5,529.6 C292.5,528.1 292.8,526.6 293.9,525.4 C295.0,524.2 297.1,522.7 298.9,522.5 C300.7,522.3 302.8,522.9 304.5,524.0 C306.2,525.1 308.2,527.1 309.4,528.9 C310.6,530.6 311.4,532.9 311.5,534.5 C311.6,536.1 311.0,537.4 310.1,538.7 C309.2,540.0 307.3,541.7 305.9,542.3 C304.5,542.9 303.2,542.9 301.7,542.3 C300.2,541.7 298.0,540.0 296.7,538.7 C295.4,537.4 294.6,536.0 293.9,534.5 C293.2,533.0 292.5,531.1 292.5,529.6 Z" fill="#fff"/>
<path d="M309.7,559.4 L317.6,559.9 L314.9,565 L310.5,563.4 Z" fill="#fff"/>
<path d="M309.6,572.9 L312.2,567.2 L315.3,572.4 Z" fill="#2a237a"/>
<path d="M267.5,580.2 L269,581.6 L294.5,579.6 L307,574.4 L306.6,573.5 L294,578.2 L270,579.9 Z" fill="#2a237a"/>
<g clip-path="url(#ch)" fill="none" stroke="#a85c22" stroke-width="0.35" opacity="0.8"><path d="M315.3,456.5 L342.8,480.4"/><path d="M279.5,500 L280,528"/></g>
<clipPath id="ci"><path d="M448.0,440.0 L491.5,436.4 L495.0,453.5 L505.6,495.9 L515.0,533.5 L525.6,568.8 L524.4,572.4 L500.9,566.5 L482.1,561.8 L465.6,558.2 L455.2,556.0 L451.5,540.6 L449.1,500.6 L446.8,453.5 L446.6,441.5 Z"/></clipPath>
<g clip-path="url(#ci)">
<path d="M448.0,440.0 L491.5,436.4 L495.0,453.5 L505.6,495.9 L515.0,533.5 L525.6,568.8 L524.4,572.4 L500.9,566.5 L482.1,561.8 L465.6,558.2 L455.2,556.0 L451.5,540.6 L449.1,500.6 L446.8,453.5 L446.6,441.5 Z" fill="#bb6629"/>
<path d="M445.0,542.5 L452.0,542.9 L464.4,548.8 L463.2,553.0 L466.0,558.5 L488.0,563.5 L487.0,570.0 L445.0,562.0 Z" fill="#f29c13" stroke="none" stroke-width="0"/>
<path d="M464.4,552.4 L469.1,545.3 L482.1,539.4 L507.9,540.6 L516.2,532.5 L530.0,560.0 L524.0,567.0 L519.5,569.5 L503.2,568.0 L487.9,563.0 L465.6,557.0 Z" fill="#843b12" stroke="none" stroke-width="0"/>
<path d="M492.6,550.0 L505.6,551.2 L502.0,567.5 L487.6,563.5 Z" fill="#f29c13" stroke="none" stroke-width="0"/>
<path d="M518.0,569.5 L524.0,566.5 L528.0,575.0 L519.0,572.5 Z" fill="#f29c13" stroke="none" stroke-width="0"/>
<path d="M455.0,554.5 L465.6,556.8 L487.9,562.2 L487.6,566.0 L454.0,559.0 Z" fill="#f29c13" stroke="none" stroke-width="0"/>
</g>
<g clip-path="url(#ci)" fill="none" stroke="#a85c22" stroke-width="0.35" stroke-dasharray="1.5,0.8" opacity="0.8"><path d="M452.6,512.4 L488,511.5 L493.8,523 L510.3,523"/></g>
<g><line x1="32.2" y1="217.9" x2="176.6" y2="217.9" stroke="#8a8a8a" stroke-width="0.6" stroke-dasharray="5,1.2,1.2,1.2"/>
<line x1="32.2" y1="246.4" x2="176.6" y2="246.4" stroke="#8a8a8a" stroke-width="0.6" stroke-dasharray="5,1.2,1.2,1.2"/>
<line x1="32.2" y1="274.9" x2="176.6" y2="274.9" stroke="#8a8a8a" stroke-width="0.6" stroke-dasharray="5,1.2,1.2,1.2"/>
<line x1="32.2" y1="303.5" x2="176.6" y2="303.5" stroke="#7a7a7a" stroke-width="1.0" stroke-dasharray="5,1.2,1.2,1.2"/>
<line x1="32.2" y1="332.2" x2="176.6" y2="332.2" stroke="#7a7a7a" stroke-width="1.0" stroke-dasharray="5,1.2,1.2,1.2"/>
<line x1="50.7" y1="214.7" x2="50.7" y2="382.5" stroke="#8a8a8a" stroke-width="0.6" stroke-dasharray="5,1.2,1.2,1.2"/>
<line x1="104.4" y1="214.7" x2="104.4" y2="382.5" stroke="#8a8a8a" stroke-width="0.6" stroke-dasharray="5,1.2,1.2,1.2"/>
<line x1="157.9" y1="214.7" x2="157.9" y2="382.5" stroke="#8a8a8a" stroke-width="0.6" stroke-dasharray="5,1.2,1.2,1.2"/>
<line x1="50.7" y1="256.3" x2="50.7" y2="273.9" stroke="#222" stroke-width="0.8" stroke-dasharray="2.2,1.2"/>
<line x1="50.7" y1="297.5" x2="50.7" y2="328.4" stroke="#222" stroke-width="0.8" stroke-dasharray="2.2,1.2"/>
<line x1="45.5" y1="256.3" x2="55.900000000000006" y2="256.3" stroke="#222" stroke-width="0.75"/>
<line x1="45.5" y1="328.4" x2="55.900000000000006" y2="328.4" stroke="#222" stroke-width="0.75"/>
<rect x="40.1" y="273.9" width="21.2" height="23.6" fill="#f4f4f4" stroke="#2a2a2a" stroke-width="0.85"/>
<rect x="40.95" y="274.75" width="19.50" height="21.90" fill="#d9d9d9"/>
<line x1="40.1" y1="286.0" x2="61.3" y2="286.0" stroke="#000" stroke-width="1.9"/>
<line x1="77.5" y1="238.1" x2="77.5" y2="255.7" stroke="#222" stroke-width="0.8" stroke-dasharray="2.2,1.2"/>
<line x1="77.5" y1="274.2" x2="77.5" y2="301.3" stroke="#222" stroke-width="0.8" stroke-dasharray="2.2,1.2"/>
<line x1="72.3" y1="238.1" x2="82.7" y2="238.1" stroke="#222" stroke-width="0.75"/>
<line x1="72.3" y1="301.3" x2="82.7" y2="301.3" stroke="#222" stroke-width="0.75"/>
<rect x="66.9" y="255.7" width="21.2" height="18.5" fill="#f4f4f4" stroke="#2a2a2a" stroke-width="0.85"/>
<rect x="67.75" y="256.55" width="19.50" height="16.80" fill="#d9d9d9"/>
<line x1="66.9" y1="264.9" x2="88.1" y2="264.9" stroke="#000" stroke-width="1.9"/>
<line x1="104.4" y1="234.4" x2="104.4" y2="249.2" stroke="#222" stroke-width="0.8" stroke-dasharray="2.2,1.2"/>
<line x1="104.4" y1="267.2" x2="104.4" y2="293.2" stroke="#222" stroke-width="0.8" stroke-dasharray="2.2,1.2"/>
<line x1="99.2" y1="234.4" x2="109.60000000000001" y2="234.4" stroke="#222" stroke-width="0.75"/>
<line x1="99.2" y1="293.2" x2="109.60000000000001" y2="293.2" stroke="#222" stroke-width="0.75"/>
<rect x="93.8" y="249.2" width="21.2" height="18.0" fill="#f4f4f4" stroke="#2a2a2a" stroke-width="0.85"/>
<rect x="94.65" y="250.05" width="19.50" height="16.30" fill="#d9d9d9"/>
<line x1="93.8" y1="257.0" x2="115.0" y2="257.0" stroke="#000" stroke-width="1.9"/>
<line x1="131.0" y1="228.1" x2="131.0" y2="244.6" stroke="#222" stroke-width="0.8" stroke-dasharray="2.2,1.2"/>
<line x1="131.0" y1="255.7" x2="131.0" y2="272.5" stroke="#222" stroke-width="0.8" stroke-dasharray="2.2,1.2"/>
<line x1="125.8" y1="228.1" x2="136.2" y2="228.1" stroke="#222" stroke-width="0.75"/>
<line x1="125.8" y1="272.5" x2="136.2" y2="272.5" stroke="#222" stroke-width="0.75"/>
<rect x="120.4" y="244.6" width="21.2" height="11.1" fill="#f4f4f4" stroke="#2a2a2a" stroke-width="0.85"/>
<rect x="121.25" y="245.45" width="19.50" height="9.40" fill="#d9d9d9"/>
<line x1="120.4" y1="249.9" x2="141.6" y2="249.9" stroke="#000" stroke-width="1.9"/>
<line x1="157.9" y1="225.5" x2="157.9" y2="240.8" stroke="#222" stroke-width="0.8" stroke-dasharray="2.2,1.2"/>
<line x1="157.9" y1="252.2" x2="157.9" y2="269.8" stroke="#222" stroke-width="0.8" stroke-dasharray="2.2,1.2"/>
<line x1="152.70000000000002" y1="225.5" x2="163.1" y2="225.5" stroke="#222" stroke-width="0.75"/>
<line x1="152.70000000000002" y1="269.8" x2="163.1" y2="269.8" stroke="#222" stroke-width="0.75"/>
<rect x="147.3" y="240.8" width="21.2" height="11.4" fill="#f4f4f4" stroke="#2a2a2a" stroke-width="0.85"/>
<rect x="148.15" y="241.65" width="19.50" height="9.70" fill="#d9d9d9"/>
<line x1="147.3" y1="245.7" x2="168.5" y2="245.7" stroke="#000" stroke-width="1.9"/>
<circle cx="50.7" cy="342" r="1.25" fill="none" stroke="#5a5a5a" stroke-width="0.42"/>
<circle cx="50.7" cy="351" r="1.25" fill="none" stroke="#5a5a5a" stroke-width="0.42"/>
<circle cx="50.7" cy="353" r="1.25" fill="none" stroke="#5a5a5a" stroke-width="0.42"/>
<circle cx="50.7" cy="363.6" r="1.25" fill="none" stroke="#5a5a5a" stroke-width="0.42"/>
<circle cx="50.7" cy="367" r="1.25" fill="none" stroke="#5a5a5a" stroke-width="0.42"/>
<circle cx="50.7" cy="377" r="1.25" fill="none" stroke="#5a5a5a" stroke-width="0.42"/>
<circle cx="77.5" cy="303" r="1.25" fill="none" stroke="#5a5a5a" stroke-width="0.42"/>
<circle cx="77.5" cy="304.5" r="1.25" fill="none" stroke="#5a5a5a" stroke-width="0.42"/>
<circle cx="77.5" cy="306" r="1.25" fill="none" stroke="#5a5a5a" stroke-width="0.42"/>
<circle cx="77.5" cy="307.5" r="1.25" fill="none" stroke="#5a5a5a" stroke-width="0.42"/>
<circle cx="77.5" cy="309" r="1.25" fill="none" stroke="#5a5a5a" stroke-width="0.42"/>
<circle cx="77.5" cy="311" r="1.25" fill="none" stroke="#5a5a5a" stroke-width="0.42"/>
<circle cx="77.5" cy="313" r="1.25" fill="none" stroke="#5a5a5a" stroke-width="0.42"/>
<circle cx="77.5" cy="339.8" r="1.25" fill="none" stroke="#5a5a5a" stroke-width="0.42"/>
<circle cx="104.4" cy="295" r="1.25" fill="none" stroke="#5a5a5a" stroke-width="0.42"/>
<circle cx="104.4" cy="296" r="1.25" fill="none" stroke="#5a5a5a" stroke-width="0.42"/>
<circle cx="104.4" cy="297" r="1.25" fill="none" stroke="#5a5a5a" stroke-width="0.42"/>
<circle cx="104.4" cy="298" r="1.25" fill="none" stroke="#5a5a5a" stroke-width="0.42"/>
<circle cx="104.4" cy="299" r="1.25" fill="none" stroke="#5a5a5a" stroke-width="0.42"/>
<circle cx="104.4" cy="300" r="1.25" fill="none" stroke="#5a5a5a" stroke-width="0.42"/>
<circle cx="104.4" cy="301" r="1.25" fill="none" stroke="#5a5a5a" stroke-width="0.42"/>
<circle cx="104.4" cy="302" r="1.25" fill="none" stroke="#5a5a5a" stroke-width="0.42"/>
<circle cx="104.4" cy="303" r="1.25" fill="none" stroke="#5a5a5a" stroke-width="0.42"/>
<circle cx="104.4" cy="304" r="1.25" fill="none" stroke="#5a5a5a" stroke-width="0.42"/>
<circle cx="104.4" cy="305" r="1.25" fill="none" stroke="#5a5a5a" stroke-width="0.42"/>
<circle cx="104.4" cy="306" r="1.25" fill="none" stroke="#5a5a5a" stroke-width="0.42"/>
<circle cx="104.4" cy="307" r="1.25" fill="none" stroke="#5a5a5a" stroke-width="0.42"/>
<circle cx="104.4" cy="308.5" r="1.25" fill="none" stroke="#5a5a5a" stroke-width="0.42"/>
<circle cx="104.4" cy="312" r="1.25" fill="none" stroke="#5a5a5a" stroke-width="0.42"/>
<circle cx="104.4" cy="317.5" r="1.25" fill="none" stroke="#5a5a5a" stroke-width="0.42"/>
<circle cx="104.4" cy="320" r="1.25" fill="none" stroke="#5a5a5a" stroke-width="0.42"/>
<circle cx="104.4" cy="323" r="1.25" fill="none" stroke="#5a5a5a" stroke-width="0.42"/>
<circle cx="104.4" cy="333.3" r="1.25" fill="none" stroke="#5a5a5a" stroke-width="0.42"/>
<circle cx="131.0" cy="221.4" r="1.25" fill="none" stroke="#5a5a5a" stroke-width="0.42"/>
<circle cx="131.0" cy="224" r="1.25" fill="none" stroke="#5a5a5a" stroke-width="0.42"/>
<circle cx="131.0" cy="274" r="1.25" fill="none" stroke="#5a5a5a" stroke-width="0.42"/>
<circle cx="131.0" cy="276" r="1.25" fill="none" stroke="#5a5a5a" stroke-width="0.42"/>
<circle cx="131.0" cy="278" r="1.25" fill="none" stroke="#5a5a5a" stroke-width="0.42"/>
<circle cx="131.0" cy="280" r="1.25" fill="none" stroke="#5a5a5a" stroke-width="0.42"/>
<circle cx="131.0" cy="282" r="1.25" fill="none" stroke="#5a5a5a" stroke-width="0.42"/>
<circle cx="131.0" cy="284" r="1.25" fill="none" stroke="#5a5a5a" stroke-width="0.42"/>
<circle cx="131.0" cy="287" r="1.25" fill="none" stroke="#5a5a5a" stroke-width="0.42"/>
<circle cx="131.0" cy="290" r="1.25" fill="none" stroke="#5a5a5a" stroke-width="0.42"/>
<circle cx="131.0" cy="293" r="1.25" fill="none" stroke="#5a5a5a" stroke-width="0.42"/>
<circle cx="131.0" cy="298.6" r="1.25" fill="none" stroke="#5a5a5a" stroke-width="0.42"/>
<circle cx="131.0" cy="302" r="1.25" fill="none" stroke="#5a5a5a" stroke-width="0.42"/>
<circle cx="157.9" cy="271" r="1.25" fill="none" stroke="#5a5a5a" stroke-width="0.42"/>
<circle cx="157.9" cy="273" r="1.25" fill="none" stroke="#5a5a5a" stroke-width="0.42"/>
<circle cx="157.9" cy="275" r="1.25" fill="none" stroke="#5a5a5a" stroke-width="0.42"/>
<circle cx="157.9" cy="277" r="1.25" fill="none" stroke="#5a5a5a" stroke-width="0.42"/>
<circle cx="157.9" cy="279" r="1.25" fill="none" stroke="#5a5a5a" stroke-width="0.42"/>
<circle cx="157.9" cy="281" r="1.25" fill="none" stroke="#5a5a5a" stroke-width="0.42"/>
<circle cx="157.9" cy="283" r="1.25" fill="none" stroke="#5a5a5a" stroke-width="0.42"/>
<circle cx="157.9" cy="285" r="1.25" fill="none" stroke="#5a5a5a" stroke-width="0.42"/>
<circle cx="157.9" cy="288" r="1.25" fill="none" stroke="#5a5a5a" stroke-width="0.42"/>
<circle cx="157.9" cy="291" r="1.25" fill="none" stroke="#5a5a5a" stroke-width="0.42"/>
<circle cx="157.9" cy="294" r="1.25" fill="none" stroke="#5a5a5a" stroke-width="0.42"/>
<circle cx="157.9" cy="297" r="1.25" fill="none" stroke="#5a5a5a" stroke-width="0.42"/>
<circle cx="157.9" cy="301" r="1.25" fill="none" stroke="#5a5a5a" stroke-width="0.42"/>
<circle cx="157.9" cy="304" r="1.25" fill="none" stroke="#5a5a5a" stroke-width="0.42"/>
<circle cx="157.9" cy="307.6" r="1.25" fill="none" stroke="#5a5a5a" stroke-width="0.42"/>
<circle cx="157.9" cy="310" r="1.25" fill="none" stroke="#5a5a5a" stroke-width="0.42"/>
<circle cx="157.9" cy="313" r="1.25" fill="none" stroke="#5a5a5a" stroke-width="0.42"/>
<circle cx="157.9" cy="317.5" r="1.25" fill="none" stroke="#5a5a5a" stroke-width="0.42"/>
<line x1="32.2" y1="287.8" x2="176.6" y2="236.7" stroke="#e8553a" stroke-width="0.7"/>
<rect x="32.2" y="214.7" width="144.4" height="167.8" fill="none" stroke="#444" stroke-width="0.8"/>
<line x1="28.200000000000003" y1="217.9" x2="32.2" y2="217.9" stroke="#333" stroke-width="0.7"/>
<text x="27.000000000000004" y="220.8" font-size="8.3" text-anchor="end" fill="#1a1a1a" stroke="#1a1a1a" stroke-width="0.12" textLength="13.3" lengthAdjust="spacingAndGlyphs">120</text>
<line x1="28.200000000000003" y1="246.4" x2="32.2" y2="246.4" stroke="#333" stroke-width="0.7"/>
<text x="27.000000000000004" y="249.3" font-size="8.3" text-anchor="end" fill="#1a1a1a" stroke="#1a1a1a" stroke-width="0.12" textLength="13.3" lengthAdjust="spacingAndGlyphs">110</text>
<line x1="28.200000000000003" y1="274.9" x2="32.2" y2="274.9" stroke="#333" stroke-width="0.7"/>
<text x="27.000000000000004" y="277.79999999999995" font-size="8.3" text-anchor="end" fill="#1a1a1a" stroke="#1a1a1a" stroke-width="0.12" textLength="13.3" lengthAdjust="spacingAndGlyphs">100</text>
<line x1="28.200000000000003" y1="303.5" x2="32.2" y2="303.5" stroke="#333" stroke-width="0.7"/>
<text x="27.000000000000004" y="306.4" font-size="8.3" text-anchor="end" fill="#1a1a1a" stroke="#1a1a1a" stroke-width="0.12" textLength="9.6" lengthAdjust="spacingAndGlyphs">90</text>
<line x1="28.200000000000003" y1="332.2" x2="32.2" y2="332.2" stroke="#333" stroke-width="0.7"/>
<text x="27.000000000000004" y="335.09999999999997" font-size="8.3" text-anchor="end" fill="#1a1a1a" stroke="#1a1a1a" stroke-width="0.12" textLength="9.6" lengthAdjust="spacingAndGlyphs">80</text>
<line x1="28.200000000000003" y1="360.8" x2="32.2" y2="360.8" stroke="#333" stroke-width="0.7"/>
<text x="27.000000000000004" y="363.7" font-size="8.3" text-anchor="end" fill="#1a1a1a" stroke="#1a1a1a" stroke-width="0.12" textLength="9.6" lengthAdjust="spacingAndGlyphs">70</text>
<line x1="50.7" y1="382.5" x2="50.7" y2="388.3" stroke="#333" stroke-width="0.7"/>
<text x="50.7" y="397.4" font-size="9.8" text-anchor="middle" fill="#1a1a1a" stroke="#1a1a1a" stroke-width="0.12" textLength="3.3" lengthAdjust="spacingAndGlyphs">1</text>
<line x1="77.5" y1="382.5" x2="77.5" y2="388.3" stroke="#333" stroke-width="0.7"/>
<text x="77.5" y="397.4" font-size="9.8" text-anchor="middle" fill="#1a1a1a" stroke="#1a1a1a" stroke-width="0.12" textLength="3.3" lengthAdjust="spacingAndGlyphs">2</text>
<line x1="104.4" y1="382.5" x2="104.4" y2="388.3" stroke="#333" stroke-width="0.7"/>
<text x="104.4" y="397.4" font-size="9.8" text-anchor="middle" fill="#1a1a1a" stroke="#1a1a1a" stroke-width="0.12" textLength="3.3" lengthAdjust="spacingAndGlyphs">3</text>
<line x1="131.0" y1="382.5" x2="131.0" y2="388.3" stroke="#333" stroke-width="0.7"/>
<text x="131.0" y="397.4" font-size="9.8" text-anchor="middle" fill="#1a1a1a" stroke="#1a1a1a" stroke-width="0.12" textLength="3.3" lengthAdjust="spacingAndGlyphs">4</text>
<line x1="157.9" y1="382.5" x2="157.9" y2="388.3" stroke="#333" stroke-width="0.7"/>
<text x="157.9" y="397.4" font-size="9.8" text-anchor="middle" fill="#1a1a1a" stroke="#1a1a1a" stroke-width="0.12" textLength="3.3" lengthAdjust="spacingAndGlyphs">5</text>
<text x="104.5" y="407.6" font-size="9.4" font-weight="bold" text-anchor="middle" fill="#111" stroke="#111" stroke-width="0.2" textLength="26.6" lengthAdjust="spacingAndGlyphs">Class ID</text>
<text transform="translate(8.0,296) rotate(-90)" font-size="9.2" font-weight="bold" text-anchor="middle" fill="#111" stroke="#111" stroke-width="0.2" textLength="67.5" lengthAdjust="spacingAndGlyphs">Relative Yield in %</text></g>
<g><line x1="219.0" y1="246.1" x2="362.8" y2="246.1" stroke="#999" stroke-width="0.5" stroke-dasharray="0.8,0.5"/>
<line x1="219.0" y1="281.6" x2="362.8" y2="281.6" stroke="#999" stroke-width="0.5" stroke-dasharray="0.8,0.5"/>
<line x1="219.0" y1="317.4" x2="362.8" y2="317.4" stroke="#999" stroke-width="0.5" stroke-dasharray="0.8,0.5"/>
<line x1="219.0" y1="353.0" x2="362.8" y2="353.0" stroke="#999" stroke-width="0.5" stroke-dasharray="0.8,0.5"/>
<line x1="237.5" y1="214.4" x2="237.5" y2="382.5" stroke="#999" stroke-width="0.5" stroke-dasharray="0.8,0.5"/>
<line x1="263.9" y1="214.4" x2="263.9" y2="382.5" stroke="#999" stroke-width="0.5" stroke-dasharray="0.8,0.5"/>
<line x1="290.5" y1="214.4" x2="290.5" y2="382.5" stroke="#999" stroke-width="0.5" stroke-dasharray="0.8,0.5"/>
<line x1="316.9" y1="214.4" x2="316.9" y2="382.5" stroke="#999" stroke-width="0.5" stroke-dasharray="0.8,0.5"/>
<line x1="343.3" y1="214.4" x2="343.3" y2="382.5" stroke="#999" stroke-width="0.5" stroke-dasharray="0.8,0.5"/>
<line x1="237.5" y1="263.7" x2="237.5" y2="305.3" stroke="#222" stroke-width="0.8" stroke-dasharray="1.3,0.8"/>
<line x1="237.5" y1="346.4" x2="237.5" y2="374.1" stroke="#222" stroke-width="0.8" stroke-dasharray="1.3,0.8"/>
<line x1="232.1" y1="263.7" x2="242.9" y2="263.7" stroke="#5a5a5a" stroke-width="0.75"/>
<line x1="232.1" y1="374.1" x2="242.9" y2="374.1" stroke="#5a5a5a" stroke-width="0.75"/>
<rect x="226.7" y="305.3" width="21.6" height="41.1" fill="#f4f4f4" stroke="#2a2a2a" stroke-width="0.85"/>
<rect x="227.55" y="306.15" width="19.90" height="39.40" fill="#d9d9d9"/>
<line x1="226.7" y1="331.1" x2="248.3" y2="331.1" stroke="#000" stroke-width="1.9"/>
<line x1="263.9" y1="243.9" x2="263.9" y2="265.4" stroke="#222" stroke-width="0.8" stroke-dasharray="1.3,0.8"/>
<line x1="263.9" y1="295.7" x2="263.9" y2="337.2" stroke="#222" stroke-width="0.8" stroke-dasharray="1.3,0.8"/>
<line x1="258.5" y1="243.9" x2="269.29999999999995" y2="243.9" stroke="#5a5a5a" stroke-width="0.75"/>
<line x1="258.5" y1="337.2" x2="269.29999999999995" y2="337.2" stroke="#5a5a5a" stroke-width="0.75"/>
<rect x="253.1" y="265.4" width="21.6" height="30.3" fill="#f4f4f4" stroke="#2a2a2a" stroke-width="0.85"/>
<rect x="253.95" y="266.25" width="19.90" height="28.60" fill="#d9d9d9"/>
<line x1="253.1" y1="277.4" x2="274.7" y2="277.4" stroke="#000" stroke-width="1.9"/>
<line x1="290.5" y1="235.8" x2="290.5" y2="257.5" stroke="#222" stroke-width="0.8" stroke-dasharray="1.3,0.8"/>
<line x1="290.5" y1="277.7" x2="290.5" y2="307.3" stroke="#222" stroke-width="0.8" stroke-dasharray="1.3,0.8"/>
<line x1="285.1" y1="235.8" x2="295.9" y2="235.8" stroke="#5a5a5a" stroke-width="0.75"/>
<line x1="285.1" y1="307.3" x2="295.9" y2="307.3" stroke="#5a5a5a" stroke-width="0.75"/>
<rect x="279.7" y="257.5" width="21.6" height="20.2" fill="#f4f4f4" stroke="#2a2a2a" stroke-width="0.85"/>
<rect x="280.55" y="258.35" width="19.90" height="18.50" fill="#d9d9d9"/>
<line x1="279.7" y1="266.3" x2="301.3" y2="266.3" stroke="#000" stroke-width="1.9"/>
<line x1="316.9" y1="228.5" x2="316.9" y2="249.2" stroke="#222" stroke-width="0.8" stroke-dasharray="1.3,0.8"/>
<line x1="316.9" y1="267.5" x2="316.9" y2="295.4" stroke="#222" stroke-width="0.8" stroke-dasharray="1.3,0.8"/>
<line x1="311.5" y1="228.5" x2="322.29999999999995" y2="228.5" stroke="#5a5a5a" stroke-width="0.75"/>
<line x1="311.5" y1="295.4" x2="322.29999999999995" y2="295.4" stroke="#5a5a5a" stroke-width="0.75"/>
<rect x="306.1" y="249.2" width="21.6" height="18.3" fill="#f4f4f4" stroke="#2a2a2a" stroke-width="0.85"/>
<rect x="306.95" y="250.05" width="19.90" height="16.60" fill="#d9d9d9"/>
<line x1="306.1" y1="257.0" x2="327.7" y2="257.0" stroke="#000" stroke-width="1.9"/>
<line x1="343.3" y1="225.3" x2="343.3" y2="242.2" stroke="#222" stroke-width="0.8" stroke-dasharray="1.3,0.8"/>
<line x1="343.3" y1="254.0" x2="343.3" y2="270.4" stroke="#222" stroke-width="0.8" stroke-dasharray="1.3,0.8"/>
<line x1="337.90000000000003" y1="225.3" x2="348.7" y2="225.3" stroke="#5a5a5a" stroke-width="0.75"/>
<line x1="337.90000000000003" y1="270.4" x2="348.7" y2="270.4" stroke="#5a5a5a" stroke-width="0.75"/>
<rect x="332.5" y="242.2" width="21.6" height="11.8" fill="#f4f4f4" stroke="#2a2a2a" stroke-width="0.85"/>
<rect x="333.35" y="243.05" width="19.90" height="10.10" fill="#d9d9d9"/>
<line x1="332.5" y1="247.5" x2="354.1" y2="247.5" stroke="#000" stroke-width="1.9"/>
<circle cx="263.9" cy="341.6" r="1.25" fill="none" stroke="#5a5a5a" stroke-width="0.42"/>
<circle cx="263.9" cy="345.5" r="1.25" fill="none" stroke="#5a5a5a" stroke-width="0.42"/>
<circle cx="263.9" cy="348" r="1.25" fill="none" stroke="#5a5a5a" stroke-width="0.42"/>
<circle cx="263.9" cy="350" r="1.25" fill="none" stroke="#5a5a5a" stroke-width="0.42"/>
<circle cx="263.9" cy="351.5" r="1.25" fill="none" stroke="#5a5a5a" stroke-width="0.42"/>
<circle cx="263.9" cy="353.7" r="1.25" fill="none" stroke="#5a5a5a" stroke-width="0.42"/>
<circle cx="263.9" cy="362" r="1.25" fill="none" stroke="#5a5a5a" stroke-width="0.42"/>
<circle cx="263.9" cy="373.5" r="1.25" fill="none" stroke="#5a5a5a" stroke-width="0.42"/>
<circle cx="263.9" cy="376" r="1.25" fill="none" stroke="#5a5a5a" stroke-width="0.42"/>
<circle cx="290.5" cy="308.5" r="1.25" fill="none" stroke="#5a5a5a" stroke-width="0.42"/>
<circle cx="290.5" cy="310" r="1.25" fill="none" stroke="#5a5a5a" stroke-width="0.42"/>
<circle cx="290.5" cy="312" r="1.25" fill="none" stroke="#5a5a5a" stroke-width="0.42"/>
<circle cx="290.5" cy="314" r="1.25" fill="none" stroke="#5a5a5a" stroke-width="0.42"/>
<circle cx="290.5" cy="316" r="1.25" fill="none" stroke="#5a5a5a" stroke-width="0.42"/>
<circle cx="290.5" cy="318" r="1.25" fill="none" stroke="#5a5a5a" stroke-width="0.42"/>
<circle cx="290.5" cy="320" r="1.25" fill="none" stroke="#5a5a5a" stroke-width="0.42"/>
<circle cx="290.5" cy="322" r="1.25" fill="none" stroke="#5a5a5a" stroke-width="0.42"/>
<circle cx="290.5" cy="328" r="1.25" fill="none" stroke="#5a5a5a" stroke-width="0.42"/>
<circle cx="290.5" cy="346" r="1.25" fill="none" stroke="#5a5a5a" stroke-width="0.42"/>
<circle cx="316.9" cy="296" r="1.25" fill="none" stroke="#5a5a5a" stroke-width="0.42"/>
<circle cx="316.9" cy="297.5" r="1.25" fill="none" stroke="#5a5a5a" stroke-width="0.42"/>
<circle cx="316.9" cy="299" r="1.25" fill="none" stroke="#5a5a5a" stroke-width="0.42"/>
<circle cx="316.9" cy="300.5" r="1.25" fill="none" stroke="#5a5a5a" stroke-width="0.42"/>
<circle cx="316.9" cy="302" r="1.25" fill="none" stroke="#5a5a5a" stroke-width="0.42"/>
<circle cx="316.9" cy="304" r="1.25" fill="none" stroke="#5a5a5a" stroke-width="0.42"/>
<circle cx="316.9" cy="306" r="1.25" fill="none" stroke="#5a5a5a" stroke-width="0.42"/>
<circle cx="316.9" cy="309" r="1.25" fill="none" stroke="#5a5a5a" stroke-width="0.42"/>
<circle cx="316.9" cy="314" r="1.25" fill="none" stroke="#5a5a5a" stroke-width="0.42"/>
<circle cx="316.9" cy="318" r="1.25" fill="none" stroke="#5a5a5a" stroke-width="0.42"/>
<circle cx="316.9" cy="320" r="1.25" fill="none" stroke="#5a5a5a" stroke-width="0.42"/>
<circle cx="316.9" cy="326" r="1.25" fill="none" stroke="#5a5a5a" stroke-width="0.42"/>
<circle cx="316.9" cy="332" r="1.25" fill="none" stroke="#5a5a5a" stroke-width="0.42"/>
<circle cx="316.9" cy="334" r="1.25" fill="none" stroke="#5a5a5a" stroke-width="0.42"/>
<circle cx="316.9" cy="338" r="1.25" fill="none" stroke="#5a5a5a" stroke-width="0.42"/>
<circle cx="316.9" cy="340" r="1.25" fill="none" stroke="#5a5a5a" stroke-width="0.42"/>
<circle cx="316.9" cy="343.7" r="1.25" fill="none" stroke="#5a5a5a" stroke-width="0.42"/>
<circle cx="343.3" cy="220" r="1.25" fill="none" stroke="#5a5a5a" stroke-width="0.42"/>
<circle cx="343.3" cy="222" r="1.25" fill="none" stroke="#5a5a5a" stroke-width="0.42"/>
<circle cx="343.3" cy="223.5" r="1.25" fill="none" stroke="#5a5a5a" stroke-width="0.42"/>
<circle cx="343.3" cy="273" r="1.25" fill="none" stroke="#5a5a5a" stroke-width="0.42"/>
<circle cx="343.3" cy="275" r="1.25" fill="none" stroke="#5a5a5a" stroke-width="0.42"/>
<circle cx="343.3" cy="277" r="1.25" fill="none" stroke="#5a5a5a" stroke-width="0.42"/>
<line x1="219.0" y1="315.9" x2="361.3" y2="232.3" stroke="#e8553a" stroke-width="0.7"/>
<rect x="219.0" y="214.4" width="143.8" height="168.1" fill="none" stroke="#444" stroke-width="0.8"/>
<line x1="215.0" y1="246.1" x2="219.0" y2="246.1" stroke="#333" stroke-width="0.7"/>
<text x="213.8" y="249.0" font-size="8.3" text-anchor="end" fill="#1a1a1a" stroke="#1a1a1a" stroke-width="0.12" textLength="13.3" lengthAdjust="spacingAndGlyphs">120</text>
<line x1="215.0" y1="281.6" x2="219.0" y2="281.6" stroke="#333" stroke-width="0.7"/>
<text x="213.8" y="284.5" font-size="8.3" text-anchor="end" fill="#1a1a1a" stroke="#1a1a1a" stroke-width="0.12" textLength="13.3" lengthAdjust="spacingAndGlyphs">100</text>
<line x1="215.0" y1="317.4" x2="219.0" y2="317.4" stroke="#333" stroke-width="0.7"/>
<text x="213.8" y="320.29999999999995" font-size="8.3" text-anchor="end" fill="#1a1a1a" stroke="#1a1a1a" stroke-width="0.12" textLength="9.6" lengthAdjust="spacingAndGlyphs">80</text>
<line x1="215.0" y1="353.0" x2="219.0" y2="353.0" stroke="#333" stroke-width="0.7"/>
<text x="213.8" y="355.9" font-size="8.3" text-anchor="end" fill="#1a1a1a" stroke="#1a1a1a" stroke-width="0.12" textLength="9.6" lengthAdjust="spacingAndGlyphs">60</text>
<line x1="237.5" y1="382.5" x2="237.5" y2="388.3" stroke="#333" stroke-width="0.7"/>
<text x="237.5" y="397.4" font-size="9.8" text-anchor="middle" fill="#1a1a1a" stroke="#1a1a1a" stroke-width="0.12" textLength="3.3" lengthAdjust="spacingAndGlyphs">1</text>
<line x1="263.9" y1="382.5" x2="263.9" y2="388.3" stroke="#333" stroke-width="0.7"/>
<text x="263.9" y="397.4" font-size="9.8" text-anchor="middle" fill="#1a1a1a" stroke="#1a1a1a" stroke-width="0.12" textLength="3.3" lengthAdjust="spacingAndGlyphs">2</text>
<line x1="290.5" y1="382.5" x2="290.5" y2="388.3" stroke="#333" stroke-width="0.7"/>
<text x="290.5" y="397.4" font-size="9.8" text-anchor="middle" fill="#1a1a1a" stroke="#1a1a1a" stroke-width="0.12" textLength="3.3" lengthAdjust="spacingAndGlyphs">3</text>
<line x1="316.9" y1="382.5" x2="316.9" y2="388.3" stroke="#333" stroke-width="0.7"/>
<text x="316.9" y="397.4" font-size="9.8" text-anchor="middle" fill="#1a1a1a" stroke="#1a1a1a" stroke-width="0.12" textLength="3.3" lengthAdjust="spacingAndGlyphs">4</text>
<line x1="343.3" y1="382.5" x2="343.3" y2="388.3" stroke="#333" stroke-width="0.7"/>
<text x="343.3" y="397.4" font-size="9.8" text-anchor="middle" fill="#1a1a1a" stroke="#1a1a1a" stroke-width="0.12" textLength="3.3" lengthAdjust="spacingAndGlyphs">5</text>
<text x="291" y="407.6" font-size="9.4" font-weight="bold" text-anchor="middle" fill="#111" stroke="#111" stroke-width="0.2" textLength="26.6" lengthAdjust="spacingAndGlyphs">Class ID</text>
<text transform="translate(195.0,296) rotate(-90)" font-size="9.2" font-weight="bold" text-anchor="middle" fill="#111" stroke="#111" stroke-width="0.2" textLength="67.5" lengthAdjust="spacingAndGlyphs">Relative Yield in %</text></g>
<g><line x1="411.4" y1="218.4" x2="555.5" y2="218.4" stroke="#999" stroke-width="0.6"/>
<line x1="411.4" y1="245.1" x2="555.5" y2="245.1" stroke="#999" stroke-width="0.6"/>
<line x1="411.4" y1="271.8" x2="555.5" y2="271.8" stroke="#999" stroke-width="0.6"/>
<line x1="411.4" y1="298.5" x2="555.5" y2="298.5" stroke="#999" stroke-width="0.6"/>
<line x1="411.4" y1="325.2" x2="555.5" y2="325.2" stroke="#999" stroke-width="0.6"/>
<line x1="411.4" y1="351.9" x2="555.5" y2="351.9" stroke="#999" stroke-width="0.6"/>
<line x1="411.4" y1="378.6" x2="555.5" y2="378.6" stroke="#999" stroke-width="0.6"/>
<line x1="429.6" y1="213.8" x2="429.6" y2="382.5" stroke="#999" stroke-width="0.6"/>
<line x1="456.3" y1="213.8" x2="456.3" y2="382.5" stroke="#999" stroke-width="0.6"/>
<line x1="482.4" y1="213.8" x2="482.4" y2="382.5" stroke="#999" stroke-width="0.6"/>
<line x1="508.8" y1="213.8" x2="508.8" y2="382.5" stroke="#999" stroke-width="0.6"/>
<line x1="535.3" y1="213.8" x2="535.3" y2="382.5" stroke="#999" stroke-width="0.6"/>
<line x1="553.8" y1="213.8" x2="553.8" y2="382.5" stroke="#999" stroke-width="0.6"/>
<line x1="429.6" y1="262.3" x2="429.6" y2="289.2" stroke="#222" stroke-width="0.8" stroke-dasharray="2.2,1.2"/>
<line x1="429.6" y1="331.6" x2="429.6" y2="352.8" stroke="#222" stroke-width="0.8" stroke-dasharray="2.2,1.2"/>
<line x1="424.20000000000005" y1="262.3" x2="435.0" y2="262.3" stroke="#222" stroke-width="0.75"/>
<line x1="424.20000000000005" y1="352.8" x2="435.0" y2="352.8" stroke="#222" stroke-width="0.75"/>
<rect x="418.9" y="289.2" width="21.4" height="42.4" fill="#f4f4f4" stroke="#2a2a2a" stroke-width="0.85"/>
<rect x="419.75" y="290.05" width="19.70" height="40.70" fill="#d9d9d9"/>
<line x1="418.9" y1="298.9" x2="440.3" y2="298.9" stroke="#000" stroke-width="1.9"/>
<line x1="456.3" y1="233.4" x2="456.3" y2="252.2" stroke="#222" stroke-width="0.8" stroke-dasharray="2.2,1.2"/>
<line x1="456.3" y1="286.2" x2="456.3" y2="336.0" stroke="#222" stroke-width="0.8" stroke-dasharray="2.2,1.2"/>
<line x1="450.90000000000003" y1="233.4" x2="461.7" y2="233.4" stroke="#222" stroke-width="0.75"/>
<line x1="450.90000000000003" y1="336.0" x2="461.7" y2="336.0" stroke="#222" stroke-width="0.75"/>
<rect x="445.6" y="252.2" width="21.4" height="34.0" fill="#f4f4f4" stroke="#2a2a2a" stroke-width="0.85"/>
<rect x="446.45" y="253.05" width="19.70" height="32.30" fill="#d9d9d9"/>
<line x1="445.6" y1="275.1" x2="467.0" y2="275.1" stroke="#000" stroke-width="1.9"/>
<line x1="482.4" y1="220.5" x2="482.4" y2="235.5" stroke="#222" stroke-width="0.8" stroke-dasharray="2.2,1.2"/>
<line x1="482.4" y1="253.5" x2="482.4" y2="279.5" stroke="#222" stroke-width="0.8" stroke-dasharray="2.2,1.2"/>
<line x1="477.0" y1="220.5" x2="487.79999999999995" y2="220.5" stroke="#222" stroke-width="0.75"/>
<line x1="477.0" y1="279.5" x2="487.79999999999995" y2="279.5" stroke="#222" stroke-width="0.75"/>
<rect x="471.7" y="235.5" width="21.4" height="18.0" fill="#f4f4f4" stroke="#2a2a2a" stroke-width="0.85"/>
<rect x="472.55" y="236.35" width="19.70" height="16.30" fill="#d9d9d9"/>
<line x1="471.7" y1="239.0" x2="493.1" y2="239.0" stroke="#000" stroke-width="1.9"/>
<line x1="508.8" y1="221.4" x2="508.8" y2="230.6" stroke="#222" stroke-width="0.8" stroke-dasharray="2.2,1.2"/>
<line x1="508.8" y1="254.5" x2="508.8" y2="276.9" stroke="#222" stroke-width="0.8" stroke-dasharray="2.2,1.2"/>
<line x1="503.40000000000003" y1="221.4" x2="514.2" y2="221.4" stroke="#222" stroke-width="0.75"/>
<line x1="503.40000000000003" y1="276.9" x2="514.2" y2="276.9" stroke="#222" stroke-width="0.75"/>
<rect x="498.1" y="230.6" width="21.4" height="23.9" fill="#f4f4f4" stroke="#2a2a2a" stroke-width="0.85"/>
<rect x="498.95" y="231.45" width="19.70" height="22.20" fill="#d9d9d9"/>
<line x1="498.1" y1="238.5" x2="519.5" y2="238.5" stroke="#000" stroke-width="1.9"/>
<line x1="535.3" y1="220.5" x2="535.3" y2="224.6" stroke="#222" stroke-width="0.8" stroke-dasharray="2.2,1.2"/>
<line x1="535.3" y1="232.3" x2="535.3" y2="242.9" stroke="#222" stroke-width="0.8" stroke-dasharray="2.2,1.2"/>
<line x1="529.9" y1="220.5" x2="540.6999999999999" y2="220.5" stroke="#222" stroke-width="0.75"/>
<line x1="529.9" y1="242.9" x2="540.6999999999999" y2="242.9" stroke="#222" stroke-width="0.75"/>
<rect x="524.6" y="224.6" width="21.4" height="7.7" fill="#f4f4f4" stroke="#2a2a2a" stroke-width="0.85"/>
<rect x="525.45" y="225.45" width="19.70" height="6.00" fill="#d9d9d9"/>
<line x1="524.6" y1="228.5" x2="546.0" y2="228.5" stroke="#000" stroke-width="1.9"/>
<circle cx="456.3" cy="376.2" r="1.25" fill="none" stroke="#5a5a5a" stroke-width="0.42"/>
<circle cx="482.4" cy="282" r="1.25" fill="none" stroke="#5a5a5a" stroke-width="0.42"/>
<circle cx="482.4" cy="284" r="1.25" fill="none" stroke="#5a5a5a" stroke-width="0.42"/>
<circle cx="482.4" cy="286.5" r="1.25" fill="none" stroke="#5a5a5a" stroke-width="0.42"/>
<circle cx="535.3" cy="255.7" r="1.25" fill="none" stroke="#5a5a5a" stroke-width="0.42"/>
<line x1="411.4" y1="306.0" x2="545.9" y2="213.8" stroke="#e8553a" stroke-width="0.7"/>
<rect x="411.4" y="213.8" width="144.1" height="168.7" fill="none" stroke="#444" stroke-width="0.8"/>
<line x1="407.4" y1="218.4" x2="411.4" y2="218.4" stroke="#333" stroke-width="0.7"/>
<text x="406.2" y="221.3" font-size="8.3" text-anchor="end" fill="#1a1a1a" stroke="#1a1a1a" stroke-width="0.12" textLength="13.3" lengthAdjust="spacingAndGlyphs">120</text>
<line x1="407.4" y1="245.1" x2="411.4" y2="245.1" stroke="#333" stroke-width="0.7"/>
<text x="406.2" y="248.0" font-size="8.3" text-anchor="end" fill="#1a1a1a" stroke="#1a1a1a" stroke-width="0.12" textLength="13.3" lengthAdjust="spacingAndGlyphs">110</text>
<line x1="407.4" y1="271.8" x2="411.4" y2="271.8" stroke="#333" stroke-width="0.7"/>
<text x="406.2" y="274.7" font-size="8.3" text-anchor="end" fill="#1a1a1a" stroke="#1a1a1a" stroke-width="0.12" textLength="13.3" lengthAdjust="spacingAndGlyphs">100</text>
<line x1="407.4" y1="298.5" x2="411.4" y2="298.5" stroke="#333" stroke-width="0.7"/>
<text x="406.2" y="301.4" font-size="8.3" text-anchor="end" fill="#1a1a1a" stroke="#1a1a1a" stroke-width="0.12" textLength="9.6" lengthAdjust="spacingAndGlyphs">90</text>
<line x1="407.4" y1="325.2" x2="411.4" y2="325.2" stroke="#333" stroke-width="0.7"/>
<text x="406.2" y="328.09999999999997" font-size="8.3" text-anchor="end" fill="#1a1a1a" stroke="#1a1a1a" stroke-width="0.12" textLength="9.6" lengthAdjust="spacingAndGlyphs">80</text>
<line x1="407.4" y1="351.9" x2="411.4" y2="351.9" stroke="#333" stroke-width="0.7"/>
<text x="406.2" y="354.79999999999995" font-size="8.3" text-anchor="end" fill="#1a1a1a" stroke="#1a1a1a" stroke-width="0.12" textLength="9.6" lengthAdjust="spacingAndGlyphs">70</text>
<line x1="407.4" y1="378.6" x2="411.4" y2="378.6" stroke="#333" stroke-width="0.7"/>
<text x="406.2" y="381.5" font-size="8.3" text-anchor="end" fill="#1a1a1a" stroke="#1a1a1a" stroke-width="0.12" textLength="9.6" lengthAdjust="spacingAndGlyphs">60</text>
<line x1="429.6" y1="382.5" x2="429.6" y2="388.3" stroke="#333" stroke-width="0.7"/>
<text x="429.6" y="397.4" font-size="9.8" text-anchor="middle" fill="#1a1a1a" stroke="#1a1a1a" stroke-width="0.12" textLength="3.3" lengthAdjust="spacingAndGlyphs">1</text>
<line x1="456.3" y1="382.5" x2="456.3" y2="388.3" stroke="#333" stroke-width="0.7"/>
<text x="456.3" y="397.4" font-size="9.8" text-anchor="middle" fill="#1a1a1a" stroke="#1a1a1a" stroke-width="0.12" textLength="3.3" lengthAdjust="spacingAndGlyphs">2</text>
<line x1="482.4" y1="382.5" x2="482.4" y2="388.3" stroke="#333" stroke-width="0.7"/>
<text x="482.4" y="397.4" font-size="9.8" text-anchor="middle" fill="#1a1a1a" stroke="#1a1a1a" stroke-width="0.12" textLength="3.3" lengthAdjust="spacingAndGlyphs">3</text>
<line x1="508.8" y1="382.5" x2="508.8" y2="388.3" stroke="#333" stroke-width="0.7"/>
<text x="508.8" y="397.4" font-size="9.8" text-anchor="middle" fill="#1a1a1a" stroke="#1a1a1a" stroke-width="0.12" textLength="3.3" lengthAdjust="spacingAndGlyphs">4</text>
<line x1="535.3" y1="382.5" x2="535.3" y2="388.3" stroke="#333" stroke-width="0.7"/>
<text x="535.3" y="397.4" font-size="9.8" text-anchor="middle" fill="#1a1a1a" stroke="#1a1a1a" stroke-width="0.12" textLength="3.3" lengthAdjust="spacingAndGlyphs">5</text>
<text x="482.7" y="407.6" font-size="9.4" font-weight="bold" text-anchor="middle" fill="#111" stroke="#111" stroke-width="0.2" textLength="26.6" lengthAdjust="spacingAndGlyphs">Class ID</text>
<text transform="translate(383.2,296) rotate(-90)" font-size="9.2" font-weight="bold" text-anchor="middle" fill="#111" stroke="#111" stroke-width="0.2" textLength="67.5" lengthAdjust="spacingAndGlyphs">Relative Yield in %</text></g>
<g><rect x="30.1" y="186.9" width="119.8" height="3.4" fill="#000"/>
<rect x="37.6" y="187.6" width="7.5" height="2.0" fill="#fff"/>
<rect x="52.6" y="187.6" width="7.5" height="2.0" fill="#fff"/>
<rect x="90.0" y="187.6" width="30.0" height="2.0" fill="#fff"/>
<text x="31.3" y="185.70000000000002" font-size="8.8" text-anchor="middle" fill="#111" stroke="#111" stroke-width="0.15" textLength="4.0" lengthAdjust="spacingAndGlyphs">0</text>
<text x="45.4" y="185.70000000000002" font-size="8.8" text-anchor="middle" fill="#111" stroke="#111" stroke-width="0.15" textLength="17.6" lengthAdjust="spacingAndGlyphs">0.125</text>
<text x="64.4" y="185.70000000000002" font-size="8.8" text-anchor="middle" fill="#111" stroke="#111" stroke-width="0.15" textLength="13.3" lengthAdjust="spacingAndGlyphs">0.25</text>
<text x="89.3" y="185.70000000000002" font-size="8.8" text-anchor="middle" fill="#111" stroke="#111" stroke-width="0.15" textLength="9.8" lengthAdjust="spacingAndGlyphs">0.5</text>
<text x="118.3" y="185.70000000000002" font-size="8.8" text-anchor="middle" fill="#111" stroke="#111" stroke-width="0.15" textLength="13.3" lengthAdjust="spacingAndGlyphs">0.75</text>
<text x="148.7" y="185.70000000000002" font-size="8.8" text-anchor="middle" fill="#111" stroke="#111" stroke-width="0.15" textLength="3.6" lengthAdjust="spacingAndGlyphs">1</text>
<text x="152.5" y="189.9" font-size="8.6" fill="#111" stroke="#111" stroke-width="0.15" textLength="34" lengthAdjust="spacingAndGlyphs">Kilometers</text></g>
<g><rect x="216.7" y="186.9" width="123.8" height="3.4" fill="#000"/>
<rect x="224.4" y="187.6" width="7.7" height="2.0" fill="#fff"/>
<rect x="239.9" y="187.6" width="7.7" height="2.0" fill="#fff"/>
<rect x="278.6" y="187.6" width="30.9" height="2.0" fill="#fff"/>
<text x="217.9" y="185.70000000000002" font-size="8.8" text-anchor="middle" fill="#111" stroke="#111" stroke-width="0.15" textLength="4.0" lengthAdjust="spacingAndGlyphs">0</text>
<text x="232.5" y="185.70000000000002" font-size="8.8" text-anchor="middle" fill="#111" stroke="#111" stroke-width="0.15" textLength="17.6" lengthAdjust="spacingAndGlyphs">0.125</text>
<text x="251.9" y="185.70000000000002" font-size="8.8" text-anchor="middle" fill="#111" stroke="#111" stroke-width="0.15" textLength="13.3" lengthAdjust="spacingAndGlyphs">0.25</text>
<text x="277.9" y="185.70000000000002" font-size="8.8" text-anchor="middle" fill="#111" stroke="#111" stroke-width="0.15" textLength="9.8" lengthAdjust="spacingAndGlyphs">0.5</text>
<text x="307.9" y="185.70000000000002" font-size="8.8" text-anchor="middle" fill="#111" stroke="#111" stroke-width="0.15" textLength="13.3" lengthAdjust="spacingAndGlyphs">0.75</text>
<text x="339.3" y="185.70000000000002" font-size="8.8" text-anchor="middle" fill="#111" stroke="#111" stroke-width="0.15" textLength="3.6" lengthAdjust="spacingAndGlyphs">1</text>
<text x="343.2" y="189.9" font-size="8.6" fill="#111" stroke="#111" stroke-width="0.15" textLength="34" lengthAdjust="spacingAndGlyphs">Kilometers</text></g>
<g><rect x="404.0" y="187.0" width="124.0" height="3.4" fill="#000"/>
<rect x="404.4" y="187.7" width="7.2" height="2.0" fill="#fff"/>
<rect x="427.2" y="187.7" width="6.9" height="2.0" fill="#fff"/>
<rect x="450.3" y="187.7" width="15.0" height="2.0" fill="#fff"/>
<text x="404.6" y="185.8" font-size="8.8" text-anchor="middle" fill="#111" stroke="#111" stroke-width="0.15" textLength="4.0" lengthAdjust="spacingAndGlyphs">0</text>
<text x="435.5" y="185.8" font-size="8.8" text-anchor="middle" fill="#111" stroke="#111" stroke-width="0.15" textLength="17.6" lengthAdjust="spacingAndGlyphs">0.125</text>
<text x="464.9" y="185.8" font-size="8.8" text-anchor="middle" fill="#111" stroke="#111" stroke-width="0.15" textLength="13.4" lengthAdjust="spacingAndGlyphs">0.25</text>
<text x="527.9" y="185.8" font-size="8.8" text-anchor="middle" fill="#111" stroke="#111" stroke-width="0.15" textLength="9.8" lengthAdjust="spacingAndGlyphs">0.5</text>
<text x="532.2" y="190.0" font-size="8.6" fill="#111" stroke="#111" stroke-width="0.15" textLength="34" lengthAdjust="spacingAndGlyphs">Kilometers</text></g>
<g><rect x="28.6" y="601.3" width="120.7" height="3.4" fill="#000"/>
<rect x="36.1" y="602.0" width="7.5" height="2.0" fill="#fff"/>
<rect x="51.2" y="602.0" width="7.5" height="2.0" fill="#fff"/>
<rect x="89.0" y="602.0" width="30.2" height="2.0" fill="#fff"/>
<text x="29.8" y="600.0999999999999" font-size="8.8" text-anchor="middle" fill="#111" stroke="#111" stroke-width="0.15" textLength="4.0" lengthAdjust="spacingAndGlyphs">0</text>
<text x="44.0" y="600.0999999999999" font-size="8.8" text-anchor="middle" fill="#111" stroke="#111" stroke-width="0.15" textLength="17.6" lengthAdjust="spacingAndGlyphs">0.125</text>
<text x="63.1" y="600.0999999999999" font-size="8.8" text-anchor="middle" fill="#111" stroke="#111" stroke-width="0.15" textLength="13.3" lengthAdjust="spacingAndGlyphs">0.25</text>
<text x="88.3" y="600.0999999999999" font-size="8.8" text-anchor="middle" fill="#111" stroke="#111" stroke-width="0.15" textLength="9.8" lengthAdjust="spacingAndGlyphs">0.5</text>
<text x="117.4" y="600.0999999999999" font-size="8.8" text-anchor="middle" fill="#111" stroke="#111" stroke-width="0.15" textLength="13.3" lengthAdjust="spacingAndGlyphs">0.75</text>
<text x="148.1" y="600.0999999999999" font-size="8.8" text-anchor="middle" fill="#111" stroke="#111" stroke-width="0.15" textLength="3.6" lengthAdjust="spacingAndGlyphs">1</text>
<text x="150.9" y="604.3" font-size="8.6" fill="#111" stroke="#111" stroke-width="0.15" textLength="34" lengthAdjust="spacingAndGlyphs">Kilometers</text></g>
<g><rect x="216.1" y="600.7" width="124.4" height="3.4" fill="#000"/>
<rect x="223.9" y="601.4000000000001" width="7.8" height="2.0" fill="#fff"/>
<rect x="239.4" y="601.4000000000001" width="7.8" height="2.0" fill="#fff"/>
<rect x="278.3" y="601.4000000000001" width="31.1" height="2.0" fill="#fff"/>
<text x="217.3" y="599.5" font-size="8.8" text-anchor="middle" fill="#111" stroke="#111" stroke-width="0.15" textLength="4.0" lengthAdjust="spacingAndGlyphs">0</text>
<text x="232.0" y="599.5" font-size="8.8" text-anchor="middle" fill="#111" stroke="#111" stroke-width="0.15" textLength="17.6" lengthAdjust="spacingAndGlyphs">0.125</text>
<text x="251.5" y="599.5" font-size="8.8" text-anchor="middle" fill="#111" stroke="#111" stroke-width="0.15" textLength="13.3" lengthAdjust="spacingAndGlyphs">0.25</text>
<text x="277.6" y="599.5" font-size="8.8" text-anchor="middle" fill="#111" stroke="#111" stroke-width="0.15" textLength="9.8" lengthAdjust="spacingAndGlyphs">0.5</text>
<text x="307.7" y="599.5" font-size="8.8" text-anchor="middle" fill="#111" stroke="#111" stroke-width="0.15" textLength="13.3" lengthAdjust="spacingAndGlyphs">0.75</text>
<text x="339.3" y="599.5" font-size="8.8" text-anchor="middle" fill="#111" stroke="#111" stroke-width="0.15" textLength="3.6" lengthAdjust="spacingAndGlyphs">1</text>
<text x="343.2" y="603.7" font-size="8.6" fill="#111" stroke="#111" stroke-width="0.15" textLength="34" lengthAdjust="spacingAndGlyphs">Kilometers</text></g>
<g><rect x="403.2" y="601.1" width="124.7" height="3.4" fill="#000"/>
<rect x="403.6" y="601.8000000000001" width="7.2" height="2.0" fill="#fff"/>
<rect x="426.4" y="601.8000000000001" width="6.9" height="2.0" fill="#fff"/>
<rect x="449.5" y="601.8000000000001" width="15.0" height="2.0" fill="#fff"/>
<text x="403.8" y="599.9" font-size="8.8" text-anchor="middle" fill="#111" stroke="#111" stroke-width="0.15" textLength="4.0" lengthAdjust="spacingAndGlyphs">0</text>
<text x="434.7" y="599.9" font-size="8.8" text-anchor="middle" fill="#111" stroke="#111" stroke-width="0.15" textLength="17.6" lengthAdjust="spacingAndGlyphs">0.125</text>
<text x="464.1" y="599.9" font-size="8.8" text-anchor="middle" fill="#111" stroke="#111" stroke-width="0.15" textLength="13.4" lengthAdjust="spacingAndGlyphs">0.25</text>
<text x="527.8" y="599.9" font-size="8.8" text-anchor="middle" fill="#111" stroke="#111" stroke-width="0.15" textLength="9.8" lengthAdjust="spacingAndGlyphs">0.5</text>
<text x="532.2" y="604.1" font-size="8.6" fill="#111" stroke="#111" stroke-width="0.15" textLength="34" lengthAdjust="spacingAndGlyphs">Kilometers</text></g>
<text x="4.6" y="16.0" font-size="17.8" font-weight="bold" fill="#111" textLength="21.3" lengthAdjust="spacingAndGlyphs">(a)</text>
<text x="206.3" y="16.0" font-size="17.8" font-weight="bold" fill="#111" textLength="22.2" lengthAdjust="spacingAndGlyphs">(b)</text>
<text x="415.3" y="16.0" font-size="17.8" font-weight="bold" fill="#111" textLength="21.5" lengthAdjust="spacingAndGlyphs">(c)</text>
<text x="5.7" y="206.9" font-size="17.8" font-weight="bold" fill="#111" textLength="21.3" lengthAdjust="spacingAndGlyphs">(d)</text>
<text x="196.8" y="206.9" font-size="17.8" font-weight="bold" fill="#111" textLength="20.9" lengthAdjust="spacingAndGlyphs">(e)</text>
<text x="385.9" y="206.9" font-size="17.8" font-weight="bold" fill="#111" textLength="16.1" lengthAdjust="spacingAndGlyphs">(f)</text>
<text x="10.7" y="434.1" font-size="17.8" font-weight="bold" fill="#111" textLength="21.5" lengthAdjust="spacingAndGlyphs">(g)</text>
<text x="198.8" y="434.1" font-size="17.8" font-weight="bold" fill="#111" textLength="21.5" lengthAdjust="spacingAndGlyphs">(h)</text>
<text x="414.9" y="434.1" font-size="17.8" font-weight="bold" fill="#111" textLength="15.9" lengthAdjust="spacingAndGlyphs">(i)</text>
<rect x="66.6" y="622.5" width="35.2" height="15" fill="#fde8bf"/>
<text x="107.2" y="631.8" font-size="10.3" fill="#111" stroke="#111" stroke-width="0.12" textLength="19.4" lengthAdjust="spacingAndGlyphs">sand</text>
<rect x="154.1" y="622.5" width="34.9" height="15" fill="#f29c13"/>
<text x="195.6" y="631.8" font-size="10.3" fill="#111" stroke="#111" stroke-width="0.12" textLength="76.6" lengthAdjust="spacingAndGlyphs">slightly loamy sand</text>
<rect x="286.6" y="622.5" width="34.1" height="15" fill="#bb6629"/>
<text x="327.2" y="631.8" font-size="10.3" fill="#111" stroke="#111" stroke-width="0.12" textLength="45.8" lengthAdjust="spacingAndGlyphs">loamy sand</text>
<rect x="390.4" y="622.5" width="34.1" height="15" fill="#843b12"/>
<text x="430.3" y="631.8" font-size="10.3" fill="#111" stroke="#111" stroke-width="0.12" textLength="64.7" lengthAdjust="spacingAndGlyphs">very loamy sand</text>
</svg>
</body></html>
